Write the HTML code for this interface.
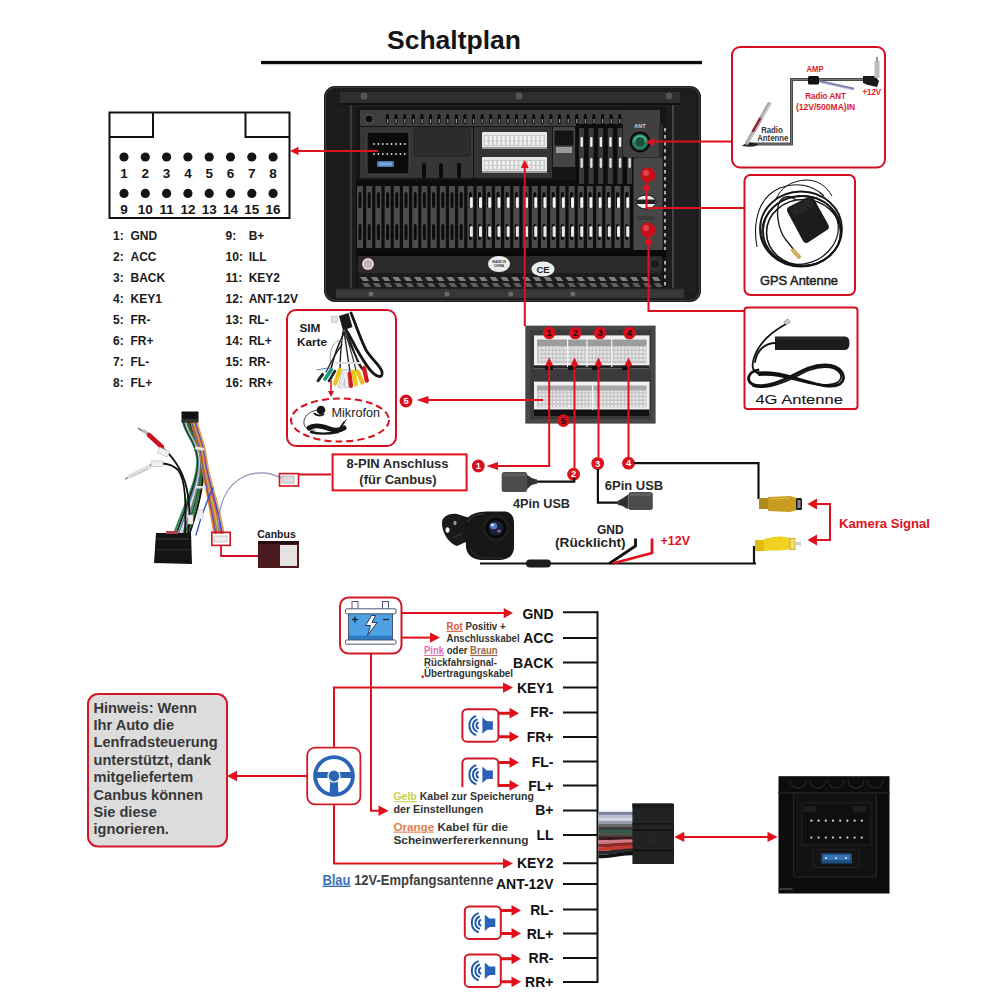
<!DOCTYPE html>
<html><head><meta charset="utf-8">
<style>
html,body{margin:0;padding:0;background:#fff;}
body{width:1000px;height:1000px;overflow:hidden;}
svg{display:block;}
text{font-family:"Liberation Sans",sans-serif;}
.b{font-weight:bold;}
</style></head>
<body>
<svg width="1000" height="1000" viewBox="0 0 1000 1000">
<rect width="1000" height="1000" fill="#fff"/>

<!-- TITLE -->
<text x="387" y="48.6" font-size="26.5" class="b" fill="#151515">Schaltplan</text>
<rect x="261" y="60.9" width="441" height="3.3" fill="#0a0a0a"/>

<!-- CONNECTOR DIAGRAM -->
<g id="conn">
<path d="M109.5,112.5 H289.5 V218 H109.5 Z M109.5,137 H153 V112.5 M289.5,137 H245.5 V112.5" fill="none" stroke="#111" stroke-width="2"/>
<g fill="#151515">
<circle cx="124" cy="157" r="4.6"/><circle cx="145.3" cy="157" r="4.6"/><circle cx="166.6" cy="157" r="4.6"/><circle cx="187.9" cy="157" r="4.6"/><circle cx="209.2" cy="157" r="4.6"/><circle cx="230.5" cy="157" r="4.6"/><circle cx="251.8" cy="157" r="4.6"/><circle cx="273.1" cy="157" r="4.6"/>
<circle cx="124" cy="193.4" r="4.6"/><circle cx="145.3" cy="193.4" r="4.6"/><circle cx="166.6" cy="193.4" r="4.6"/><circle cx="187.9" cy="193.4" r="4.6"/><circle cx="209.2" cy="193.4" r="4.6"/><circle cx="230.5" cy="193.4" r="4.6"/><circle cx="251.8" cy="193.4" r="4.6"/><circle cx="273.1" cy="193.4" r="4.6"/>
</g>
<g font-size="13.5" class="b" fill="#151515" text-anchor="middle">
<text x="124" y="177.6">1</text><text x="145.3" y="177.6">2</text><text x="166.6" y="177.6">3</text><text x="187.9" y="177.6">4</text><text x="209.2" y="177.6">5</text><text x="230.5" y="177.6">6</text><text x="251.8" y="177.6">7</text><text x="273.1" y="177.6">8</text>
<text x="124" y="213.5">9</text><text x="145.3" y="213.5">10</text><text x="166.6" y="213.5">11</text><text x="187.9" y="213.5">12</text><text x="209.2" y="213.5">13</text><text x="230.5" y="213.5">14</text><text x="251.8" y="213.5">15</text><text x="273.1" y="213.5">16</text>
</g>
</g>

<!-- PIN LIST -->
<g font-size="12" class="b" fill="#1a1a1a">
<text x="113" y="239.5">1:</text><text x="130.5" y="239.5">GND</text>
<text x="113" y="260.6">2:</text><text x="130.5" y="260.6">ACC</text>
<text x="113" y="281.7">3:</text><text x="130.5" y="281.7">BACK</text>
<text x="113" y="302.8">4:</text><text x="130.5" y="302.8">KEY1</text>
<text x="113" y="323.9">5:</text><text x="130.5" y="323.9">FR-</text>
<text x="113" y="345">6:</text><text x="130.5" y="345">FR+</text>
<text x="113" y="366.1">7:</text><text x="130.5" y="366.1">FL-</text>
<text x="113" y="387.2">8:</text><text x="130.5" y="387.2">FL+</text>
<text x="225.6" y="239.5">9:</text><text x="248.7" y="239.5">B+</text>
<text x="225.6" y="260.6">10:</text><text x="248.7" y="260.6">ILL</text>
<text x="225.6" y="281.7">11:</text><text x="248.7" y="281.7">KEY2</text>
<text x="225.6" y="302.8">12:</text><text x="248.7" y="302.8">ANT-12V</text>
<text x="225.6" y="323.9">13:</text><text x="248.7" y="323.9">RL-</text>
<text x="225.6" y="345">14:</text><text x="248.7" y="345">RL+</text>
<text x="225.6" y="366.1">15:</text><text x="248.7" y="366.1">RR-</text>
<text x="225.6" y="387.2">16:</text><text x="248.7" y="387.2">RR+</text>
</g>

<g id="hu">
<rect x="324" y="86" width="377" height="216" rx="11" fill="#1c1c1c"/>
<rect x="325.5" y="87.5" width="374" height="213" rx="10" fill="none" stroke="#3c3c3c" stroke-width="1.2"/>
<rect x="330" y="95" width="22" height="198" fill="#1c1c1c"/>
<rect x="350" y="95" width="2" height="198" fill="#3a3a3a"/>
<rect x="672" y="95" width="24" height="198" fill="#1f1f1f"/>
<rect x="672" y="95" width="2" height="198" fill="#454545"/>
<rect x="340" y="92" width="340" height="12" fill="#2e2e2e"/>
<rect x="340" y="103" width="340" height="2" fill="#111"/>
<circle cx="364" cy="96" r="3.5" fill="#555"/>
<circle cx="519" cy="96" r="3.5" fill="#555"/>
<circle cx="669" cy="96" r="3.5" fill="#555"/>
<rect x="356" y="107" width="310" height="186" fill="#151515"/>
<rect x="360" y="110" width="300" height="16" fill="#3e3e3e"/>
<rect x="386.0" y="114" width="3" height="10" rx="1.5" fill="#0a0a0a"/>
<rect x="387.0" y="119" width="1.2" height="4" fill="#9a9a9a"/>
<rect x="394.6" y="114" width="3" height="10" rx="1.5" fill="#0a0a0a"/>
<rect x="395.6" y="119" width="1.2" height="4" fill="#9a9a9a"/>
<rect x="403.2" y="114" width="3" height="10" rx="1.5" fill="#0a0a0a"/>
<rect x="404.2" y="119" width="1.2" height="4" fill="#9a9a9a"/>
<rect x="411.8" y="114" width="3" height="10" rx="1.5" fill="#0a0a0a"/>
<rect x="412.8" y="119" width="1.2" height="4" fill="#9a9a9a"/>
<rect x="420.4" y="114" width="3" height="10" rx="1.5" fill="#0a0a0a"/>
<rect x="421.4" y="119" width="1.2" height="4" fill="#9a9a9a"/>
<rect x="429.0" y="114" width="3" height="10" rx="1.5" fill="#0a0a0a"/>
<rect x="430.0" y="119" width="1.2" height="4" fill="#9a9a9a"/>
<rect x="437.6" y="114" width="3" height="10" rx="1.5" fill="#0a0a0a"/>
<rect x="438.6" y="119" width="1.2" height="4" fill="#9a9a9a"/>
<rect x="446.2" y="114" width="3" height="10" rx="1.5" fill="#0a0a0a"/>
<rect x="447.2" y="119" width="1.2" height="4" fill="#9a9a9a"/>
<rect x="454.8" y="114" width="3" height="10" rx="1.5" fill="#0a0a0a"/>
<rect x="455.8" y="119" width="1.2" height="4" fill="#9a9a9a"/>
<rect x="463.4" y="114" width="3" height="10" rx="1.5" fill="#0a0a0a"/>
<rect x="464.4" y="119" width="1.2" height="4" fill="#9a9a9a"/>
<rect x="472.0" y="114" width="3" height="10" rx="1.5" fill="#0a0a0a"/>
<rect x="473.0" y="119" width="1.2" height="4" fill="#9a9a9a"/>
<rect x="480.6" y="114" width="3" height="10" rx="1.5" fill="#0a0a0a"/>
<rect x="481.6" y="119" width="1.2" height="4" fill="#9a9a9a"/>
<rect x="489.2" y="114" width="3" height="10" rx="1.5" fill="#0a0a0a"/>
<rect x="490.2" y="119" width="1.2" height="4" fill="#9a9a9a"/>
<rect x="497.8" y="114" width="3" height="10" rx="1.5" fill="#0a0a0a"/>
<rect x="498.8" y="119" width="1.2" height="4" fill="#9a9a9a"/>
<rect x="506.4" y="114" width="3" height="10" rx="1.5" fill="#0a0a0a"/>
<rect x="507.4" y="119" width="1.2" height="4" fill="#9a9a9a"/>
<rect x="515.0" y="114" width="3" height="10" rx="1.5" fill="#0a0a0a"/>
<rect x="516.0" y="119" width="1.2" height="4" fill="#9a9a9a"/>
<rect x="523.6" y="114" width="3" height="10" rx="1.5" fill="#0a0a0a"/>
<rect x="524.6" y="119" width="1.2" height="4" fill="#9a9a9a"/>
<rect x="532.2" y="114" width="3" height="10" rx="1.5" fill="#0a0a0a"/>
<rect x="533.2" y="119" width="1.2" height="4" fill="#9a9a9a"/>
<rect x="540.8" y="114" width="3" height="10" rx="1.5" fill="#0a0a0a"/>
<rect x="541.8" y="119" width="1.2" height="4" fill="#9a9a9a"/>
<rect x="549.4" y="114" width="3" height="10" rx="1.5" fill="#0a0a0a"/>
<rect x="550.4" y="119" width="1.2" height="4" fill="#9a9a9a"/>
<rect x="558.0" y="114" width="3" height="10" rx="1.5" fill="#0a0a0a"/>
<rect x="559.0" y="119" width="1.2" height="4" fill="#9a9a9a"/>
<rect x="566.6" y="114" width="3" height="10" rx="1.5" fill="#0a0a0a"/>
<rect x="567.6" y="119" width="1.2" height="4" fill="#9a9a9a"/>
<rect x="575.2" y="114" width="3" height="10" rx="1.5" fill="#0a0a0a"/>
<rect x="576.2" y="119" width="1.2" height="4" fill="#9a9a9a"/>
<rect x="583.8" y="114" width="3" height="10" rx="1.5" fill="#0a0a0a"/>
<rect x="584.8" y="119" width="1.2" height="4" fill="#9a9a9a"/>
<rect x="592.4" y="114" width="3" height="10" rx="1.5" fill="#0a0a0a"/>
<rect x="593.4" y="119" width="1.2" height="4" fill="#9a9a9a"/>
<rect x="601.0" y="114" width="3" height="10" rx="1.5" fill="#0a0a0a"/>
<rect x="602.0" y="119" width="1.2" height="4" fill="#9a9a9a"/>
<rect x="609.6" y="114" width="3" height="10" rx="1.5" fill="#0a0a0a"/>
<rect x="610.6" y="119" width="1.2" height="4" fill="#9a9a9a"/>
<rect x="618.2" y="114" width="3" height="10" rx="1.5" fill="#0a0a0a"/>
<rect x="619.2" y="119" width="1.2" height="4" fill="#9a9a9a"/>
<rect x="626.8" y="114" width="3" height="10" rx="1.5" fill="#0a0a0a"/>
<rect x="627.8" y="119" width="1.2" height="4" fill="#9a9a9a"/>
<rect x="635.4" y="114" width="3" height="10" rx="1.5" fill="#0a0a0a"/>
<rect x="636.4" y="119" width="1.2" height="4" fill="#9a9a9a"/>
<rect x="644.0" y="114" width="3" height="10" rx="1.5" fill="#0a0a0a"/>
<rect x="645.0" y="119" width="1.2" height="4" fill="#9a9a9a"/>
<rect x="652.6" y="114" width="3" height="10" rx="1.5" fill="#0a0a0a"/>
<rect x="653.6" y="119" width="1.2" height="4" fill="#9a9a9a"/>
<circle cx="369" cy="119" r="4" fill="#0c0c0c" stroke="#555" stroke-width="1"/>
<rect x="360" y="127" width="53" height="51" fill="#363636"/>
<rect x="367" y="132" width="42" height="42" fill="#0b0b0b" stroke="#4a4a4a" stroke-width="1"/>
<circle cx="374.0" cy="144" r="0.9" fill="#ddd"/>
<circle cx="374.0" cy="154" r="0.9" fill="#ddd"/>
<circle cx="378.4" cy="144" r="0.9" fill="#ddd"/>
<circle cx="378.4" cy="154" r="0.9" fill="#ddd"/>
<circle cx="382.8" cy="144" r="0.9" fill="#ddd"/>
<circle cx="382.8" cy="154" r="0.9" fill="#ddd"/>
<circle cx="387.2" cy="144" r="0.9" fill="#ddd"/>
<circle cx="387.2" cy="154" r="0.9" fill="#ddd"/>
<circle cx="391.6" cy="144" r="0.9" fill="#ddd"/>
<circle cx="391.6" cy="154" r="0.9" fill="#ddd"/>
<circle cx="396.0" cy="144" r="0.9" fill="#ddd"/>
<circle cx="396.0" cy="154" r="0.9" fill="#ddd"/>
<circle cx="400.4" cy="144" r="0.9" fill="#ddd"/>
<circle cx="400.4" cy="154" r="0.9" fill="#ddd"/>
<circle cx="404.8" cy="144" r="0.9" fill="#ddd"/>
<circle cx="404.8" cy="154" r="0.9" fill="#ddd"/>
<rect x="377" y="161" width="17" height="6" rx="1.5" fill="#4a7ab0"/>
<rect x="379" y="162.5" width="13" height="3" fill="#7aa8d8"/>
<rect x="413" y="127" width="60" height="51" fill="#363636"/>
<rect x="414" y="128" width="56" height="28" rx="2" fill="#2c2c2c" stroke="#222"/>
<rect x="422" y="163" width="4" height="15" rx="2" fill="#0a0a0a"/>
<rect x="439" y="163" width="4" height="15" rx="2" fill="#0a0a0a"/>
<rect x="457" y="163" width="4" height="15" rx="2" fill="#0a0a0a"/>
<rect x="474" y="127" width="78" height="51" fill="#333"/>
<rect x="482" y="132" width="65" height="17" rx="1" fill="#e8e8e8"/>
<rect x="484" y="135" width="61" height="11" fill="#c9c9c9"/>
<rect x="485.0" y="136" width="2.6" height="4.5" fill="#f2f2f2"/>
<rect x="485.0" y="141.3" width="2.6" height="3.7" fill="#f2f2f2"/>
<rect x="489.3" y="136" width="2.6" height="4.5" fill="#f2f2f2"/>
<rect x="489.3" y="141.3" width="2.6" height="3.7" fill="#f2f2f2"/>
<rect x="493.6" y="136" width="2.6" height="4.5" fill="#f2f2f2"/>
<rect x="493.6" y="141.3" width="2.6" height="3.7" fill="#f2f2f2"/>
<rect x="497.9" y="136" width="2.6" height="4.5" fill="#f2f2f2"/>
<rect x="497.9" y="141.3" width="2.6" height="3.7" fill="#f2f2f2"/>
<rect x="502.2" y="136" width="2.6" height="4.5" fill="#f2f2f2"/>
<rect x="502.2" y="141.3" width="2.6" height="3.7" fill="#f2f2f2"/>
<rect x="506.5" y="136" width="2.6" height="4.5" fill="#f2f2f2"/>
<rect x="506.5" y="141.3" width="2.6" height="3.7" fill="#f2f2f2"/>
<rect x="510.8" y="136" width="2.6" height="4.5" fill="#f2f2f2"/>
<rect x="510.8" y="141.3" width="2.6" height="3.7" fill="#f2f2f2"/>
<rect x="515.1" y="136" width="2.6" height="4.5" fill="#f2f2f2"/>
<rect x="515.1" y="141.3" width="2.6" height="3.7" fill="#f2f2f2"/>
<rect x="519.4" y="136" width="2.6" height="4.5" fill="#f2f2f2"/>
<rect x="519.4" y="141.3" width="2.6" height="3.7" fill="#f2f2f2"/>
<rect x="523.7" y="136" width="2.6" height="4.5" fill="#f2f2f2"/>
<rect x="523.7" y="141.3" width="2.6" height="3.7" fill="#f2f2f2"/>
<rect x="528.0" y="136" width="2.6" height="4.5" fill="#f2f2f2"/>
<rect x="528.0" y="141.3" width="2.6" height="3.7" fill="#f2f2f2"/>
<rect x="532.3" y="136" width="2.6" height="4.5" fill="#f2f2f2"/>
<rect x="532.3" y="141.3" width="2.6" height="3.7" fill="#f2f2f2"/>
<rect x="536.6" y="136" width="2.6" height="4.5" fill="#f2f2f2"/>
<rect x="536.6" y="141.3" width="2.6" height="3.7" fill="#f2f2f2"/>
<rect x="540.9" y="136" width="2.6" height="4.5" fill="#f2f2f2"/>
<rect x="540.9" y="141.3" width="2.6" height="3.7" fill="#f2f2f2"/>
<rect x="482" y="147" width="65" height="2" fill="#9a9a9a"/>
<rect x="482" y="157" width="65" height="16" rx="1" fill="#e8e8e8"/>
<rect x="484" y="160" width="61" height="10" fill="#c9c9c9"/>
<rect x="485.0" y="161" width="2.6" height="4.0" fill="#f2f2f2"/>
<rect x="485.0" y="165.8" width="2.6" height="3.2" fill="#f2f2f2"/>
<rect x="489.3" y="161" width="2.6" height="4.0" fill="#f2f2f2"/>
<rect x="489.3" y="165.8" width="2.6" height="3.2" fill="#f2f2f2"/>
<rect x="493.6" y="161" width="2.6" height="4.0" fill="#f2f2f2"/>
<rect x="493.6" y="165.8" width="2.6" height="3.2" fill="#f2f2f2"/>
<rect x="497.9" y="161" width="2.6" height="4.0" fill="#f2f2f2"/>
<rect x="497.9" y="165.8" width="2.6" height="3.2" fill="#f2f2f2"/>
<rect x="502.2" y="161" width="2.6" height="4.0" fill="#f2f2f2"/>
<rect x="502.2" y="165.8" width="2.6" height="3.2" fill="#f2f2f2"/>
<rect x="506.5" y="161" width="2.6" height="4.0" fill="#f2f2f2"/>
<rect x="506.5" y="165.8" width="2.6" height="3.2" fill="#f2f2f2"/>
<rect x="510.8" y="161" width="2.6" height="4.0" fill="#f2f2f2"/>
<rect x="510.8" y="165.8" width="2.6" height="3.2" fill="#f2f2f2"/>
<rect x="515.1" y="161" width="2.6" height="4.0" fill="#f2f2f2"/>
<rect x="515.1" y="165.8" width="2.6" height="3.2" fill="#f2f2f2"/>
<rect x="519.4" y="161" width="2.6" height="4.0" fill="#f2f2f2"/>
<rect x="519.4" y="165.8" width="2.6" height="3.2" fill="#f2f2f2"/>
<rect x="523.7" y="161" width="2.6" height="4.0" fill="#f2f2f2"/>
<rect x="523.7" y="165.8" width="2.6" height="3.2" fill="#f2f2f2"/>
<rect x="528.0" y="161" width="2.6" height="4.0" fill="#f2f2f2"/>
<rect x="528.0" y="165.8" width="2.6" height="3.2" fill="#f2f2f2"/>
<rect x="532.3" y="161" width="2.6" height="4.0" fill="#f2f2f2"/>
<rect x="532.3" y="165.8" width="2.6" height="3.2" fill="#f2f2f2"/>
<rect x="536.6" y="161" width="2.6" height="4.0" fill="#f2f2f2"/>
<rect x="536.6" y="165.8" width="2.6" height="3.2" fill="#f2f2f2"/>
<rect x="540.9" y="161" width="2.6" height="4.0" fill="#f2f2f2"/>
<rect x="540.9" y="165.8" width="2.6" height="3.2" fill="#f2f2f2"/>
<rect x="482" y="171" width="65" height="2" fill="#9a9a9a"/>
<rect x="553" y="127" width="22" height="40" fill="#444"/>
<rect x="554" y="130" width="20" height="16" fill="#141414" stroke="#555" stroke-width="0.8"/>
<rect x="556" y="147" width="16" height="6" fill="#9a9a9a"/>
<rect x="356" y="180" width="277" height="70" fill="#0d0d0d"/>
<rect x="576" y="124" width="57" height="126" fill="#0d0d0d"/>
<rect x="357.0" y="186" width="6" height="62" fill="#4c4c4c"/>
<rect x="358.5" y="192" width="3" height="16" rx="1.5" fill="#0c0c0c"/>
<rect x="358.5" y="224" width="3" height="16" rx="1.5" fill="#0c0c0c"/>
<rect x="366.2" y="186" width="6" height="62" fill="#4c4c4c"/>
<rect x="367.7" y="192" width="3" height="16" rx="1.5" fill="#0c0c0c"/>
<rect x="367.7" y="224" width="3" height="16" rx="1.5" fill="#0c0c0c"/>
<rect x="375.4" y="186" width="6" height="62" fill="#4c4c4c"/>
<rect x="376.9" y="192" width="3" height="16" rx="1.5" fill="#0c0c0c"/>
<rect x="376.9" y="224" width="3" height="16" rx="1.5" fill="#0c0c0c"/>
<rect x="384.6" y="186" width="6" height="62" fill="#4c4c4c"/>
<rect x="386.1" y="192" width="3" height="16" rx="1.5" fill="#0c0c0c"/>
<rect x="386.1" y="224" width="3" height="16" rx="1.5" fill="#0c0c0c"/>
<rect x="393.8" y="186" width="6" height="62" fill="#4c4c4c"/>
<rect x="395.3" y="192" width="3" height="16" rx="1.5" fill="#0c0c0c"/>
<rect x="395.3" y="224" width="3" height="16" rx="1.5" fill="#0c0c0c"/>
<rect x="403.0" y="186" width="6" height="62" fill="#4c4c4c"/>
<rect x="404.5" y="192" width="3" height="16" rx="1.5" fill="#0c0c0c"/>
<rect x="404.5" y="224" width="3" height="16" rx="1.5" fill="#0c0c0c"/>
<rect x="412.2" y="186" width="6" height="62" fill="#4c4c4c"/>
<rect x="413.7" y="192" width="3" height="16" rx="1.5" fill="#0c0c0c"/>
<rect x="413.7" y="224" width="3" height="16" rx="1.5" fill="#0c0c0c"/>
<rect x="421.4" y="186" width="6" height="62" fill="#4c4c4c"/>
<rect x="422.9" y="192" width="3" height="16" rx="1.5" fill="#0c0c0c"/>
<rect x="422.9" y="224" width="3" height="16" rx="1.5" fill="#0c0c0c"/>
<rect x="430.6" y="186" width="6" height="62" fill="#4c4c4c"/>
<rect x="432.1" y="192" width="3" height="16" rx="1.5" fill="#0c0c0c"/>
<rect x="432.1" y="224" width="3" height="16" rx="1.5" fill="#0c0c0c"/>
<rect x="439.8" y="186" width="6" height="62" fill="#4c4c4c"/>
<rect x="441.3" y="192" width="3" height="16" rx="1.5" fill="#0c0c0c"/>
<rect x="441.3" y="224" width="3" height="16" rx="1.5" fill="#0c0c0c"/>
<rect x="449.0" y="186" width="6" height="62" fill="#4c4c4c"/>
<rect x="450.5" y="192" width="3" height="16" rx="1.5" fill="#0c0c0c"/>
<rect x="450.5" y="224" width="3" height="16" rx="1.5" fill="#0c0c0c"/>
<rect x="458.2" y="186" width="6" height="62" fill="#4c4c4c"/>
<rect x="459.7" y="192" width="3" height="16" rx="1.5" fill="#0c0c0c"/>
<rect x="459.7" y="224" width="3" height="16" rx="1.5" fill="#0c0c0c"/>
<rect x="467.4" y="186" width="6" height="62" fill="#4c4c4c"/>
<rect x="468.9" y="192" width="3" height="16" rx="1.5" fill="#0c0c0c"/>
<rect x="468.9" y="224" width="3" height="16" rx="1.5" fill="#0c0c0c"/>
<rect x="476.6" y="186" width="6" height="62" fill="#4c4c4c"/>
<rect x="478.1" y="192" width="3" height="16" rx="1.5" fill="#0c0c0c"/>
<rect x="478.1" y="224" width="3" height="16" rx="1.5" fill="#0c0c0c"/>
<rect x="485.8" y="186" width="6" height="62" fill="#4c4c4c"/>
<rect x="487.3" y="192" width="3" height="16" rx="1.5" fill="#0c0c0c"/>
<rect x="487.3" y="224" width="3" height="16" rx="1.5" fill="#0c0c0c"/>
<rect x="495.0" y="186" width="6" height="62" fill="#4c4c4c"/>
<rect x="496.5" y="192" width="3" height="16" rx="1.5" fill="#0c0c0c"/>
<rect x="496.5" y="224" width="3" height="16" rx="1.5" fill="#0c0c0c"/>
<rect x="504.2" y="186" width="6" height="62" fill="#4c4c4c"/>
<rect x="505.7" y="192" width="3" height="16" rx="1.5" fill="#0c0c0c"/>
<rect x="505.7" y="224" width="3" height="16" rx="1.5" fill="#0c0c0c"/>
<rect x="513.4" y="186" width="6" height="62" fill="#4c4c4c"/>
<rect x="514.9" y="192" width="3" height="16" rx="1.5" fill="#0c0c0c"/>
<rect x="514.9" y="224" width="3" height="16" rx="1.5" fill="#0c0c0c"/>
<rect x="522.6" y="186" width="6" height="62" fill="#4c4c4c"/>
<rect x="524.1" y="192" width="3" height="16" rx="1.5" fill="#0c0c0c"/>
<rect x="524.1" y="224" width="3" height="16" rx="1.5" fill="#0c0c0c"/>
<rect x="531.8" y="186" width="6" height="62" fill="#4c4c4c"/>
<rect x="533.3" y="192" width="3" height="16" rx="1.5" fill="#0c0c0c"/>
<rect x="533.3" y="224" width="3" height="16" rx="1.5" fill="#0c0c0c"/>
<rect x="541.0" y="186" width="6" height="62" fill="#4c4c4c"/>
<rect x="542.5" y="192" width="3" height="16" rx="1.5" fill="#0c0c0c"/>
<rect x="542.5" y="224" width="3" height="16" rx="1.5" fill="#0c0c0c"/>
<rect x="550.2" y="186" width="6" height="62" fill="#4c4c4c"/>
<rect x="551.7" y="192" width="3" height="16" rx="1.5" fill="#0c0c0c"/>
<rect x="551.7" y="224" width="3" height="16" rx="1.5" fill="#0c0c0c"/>
<rect x="559.4" y="186" width="6" height="62" fill="#4c4c4c"/>
<rect x="560.9" y="192" width="3" height="16" rx="1.5" fill="#0c0c0c"/>
<rect x="560.9" y="224" width="3" height="16" rx="1.5" fill="#0c0c0c"/>
<rect x="568.6" y="186" width="6" height="62" fill="#4c4c4c"/>
<rect x="570.1" y="192" width="3" height="16" rx="1.5" fill="#0c0c0c"/>
<rect x="570.1" y="224" width="3" height="16" rx="1.5" fill="#0c0c0c"/>
<rect x="577.8" y="186" width="6" height="62" fill="#4c4c4c"/>
<rect x="579.3" y="192" width="3" height="16" rx="1.5" fill="#0c0c0c"/>
<rect x="579.3" y="224" width="3" height="16" rx="1.5" fill="#0c0c0c"/>
<rect x="587.0" y="186" width="6" height="62" fill="#4c4c4c"/>
<rect x="588.5" y="192" width="3" height="16" rx="1.5" fill="#0c0c0c"/>
<rect x="588.5" y="224" width="3" height="16" rx="1.5" fill="#0c0c0c"/>
<rect x="596.2" y="186" width="6" height="62" fill="#4c4c4c"/>
<rect x="597.7" y="192" width="3" height="16" rx="1.5" fill="#0c0c0c"/>
<rect x="597.7" y="224" width="3" height="16" rx="1.5" fill="#0c0c0c"/>
<rect x="605.4" y="186" width="6" height="62" fill="#4c4c4c"/>
<rect x="606.9" y="192" width="3" height="16" rx="1.5" fill="#0c0c0c"/>
<rect x="606.9" y="224" width="3" height="16" rx="1.5" fill="#0c0c0c"/>
<rect x="614.6" y="186" width="6" height="62" fill="#4c4c4c"/>
<rect x="616.1" y="192" width="3" height="16" rx="1.5" fill="#0c0c0c"/>
<rect x="616.1" y="224" width="3" height="16" rx="1.5" fill="#0c0c0c"/>
<rect x="623.8" y="186" width="6" height="62" fill="#4c4c4c"/>
<rect x="625.3" y="192" width="3" height="16" rx="1.5" fill="#0c0c0c"/>
<rect x="625.3" y="224" width="3" height="16" rx="1.5" fill="#0c0c0c"/>
<rect x="579.0" y="128" width="5" height="56" fill="#3a3a3a"/>
<rect x="580.5" y="137" width="2.4" height="10" rx="1.2" fill="#eee"/>
<rect x="580.5" y="158" width="2.4" height="10" rx="1.2" fill="#ddd"/>
<rect x="588.6" y="128" width="5" height="56" fill="#3a3a3a"/>
<rect x="590.1" y="137" width="2.4" height="10" rx="1.2" fill="#eee"/>
<rect x="590.1" y="158" width="2.4" height="10" rx="1.2" fill="#ddd"/>
<rect x="598.2" y="128" width="5" height="56" fill="#3a3a3a"/>
<rect x="599.7" y="137" width="2.4" height="10" rx="1.2" fill="#eee"/>
<rect x="599.7" y="158" width="2.4" height="10" rx="1.2" fill="#ddd"/>
<rect x="607.8" y="128" width="5" height="56" fill="#3a3a3a"/>
<rect x="609.3" y="137" width="2.4" height="10" rx="1.2" fill="#eee"/>
<rect x="609.3" y="158" width="2.4" height="10" rx="1.2" fill="#ddd"/>
<rect x="617.4" y="128" width="5" height="56" fill="#3a3a3a"/>
<rect x="618.9" y="137" width="2.4" height="10" rx="1.2" fill="#eee"/>
<rect x="618.9" y="158" width="2.4" height="10" rx="1.2" fill="#ddd"/>
<rect x="627.0" y="128" width="5" height="56" fill="#3a3a3a"/>
<rect x="628.5" y="137" width="2.4" height="10" rx="1.2" fill="#eee"/>
<rect x="628.5" y="158" width="2.4" height="10" rx="1.2" fill="#ddd"/>
<rect x="469.8" y="197" width="3" height="11" rx="1.5" fill="#f0f0f0"/>
<rect x="469.8" y="226" width="3" height="11" rx="1.5" fill="#e8e8e8"/>
<rect x="479.0" y="197" width="3" height="11" rx="1.5" fill="#f0f0f0"/>
<rect x="479.0" y="226" width="3" height="11" rx="1.5" fill="#e8e8e8"/>
<rect x="488.2" y="197" width="3" height="11" rx="1.5" fill="#f0f0f0"/>
<rect x="488.2" y="226" width="3" height="11" rx="1.5" fill="#e8e8e8"/>
<rect x="497.4" y="197" width="3" height="11" rx="1.5" fill="#f0f0f0"/>
<rect x="497.4" y="226" width="3" height="11" rx="1.5" fill="#e8e8e8"/>
<rect x="506.6" y="197" width="3" height="11" rx="1.5" fill="#f0f0f0"/>
<rect x="506.6" y="226" width="3" height="11" rx="1.5" fill="#e8e8e8"/>
<rect x="515.8" y="197" width="3" height="11" rx="1.5" fill="#f0f0f0"/>
<rect x="515.8" y="226" width="3" height="11" rx="1.5" fill="#e8e8e8"/>
<rect x="525.0" y="197" width="3" height="11" rx="1.5" fill="#f0f0f0"/>
<rect x="525.0" y="226" width="3" height="11" rx="1.5" fill="#e8e8e8"/>
<rect x="534.2" y="197" width="3" height="11" rx="1.5" fill="#f0f0f0"/>
<rect x="534.2" y="226" width="3" height="11" rx="1.5" fill="#e8e8e8"/>
<rect x="543.4" y="197" width="3" height="11" rx="1.5" fill="#f0f0f0"/>
<rect x="543.4" y="226" width="3" height="11" rx="1.5" fill="#e8e8e8"/>
<rect x="552.6" y="197" width="3" height="11" rx="1.5" fill="#f0f0f0"/>
<rect x="552.6" y="226" width="3" height="11" rx="1.5" fill="#e8e8e8"/>
<rect x="561.8" y="197" width="3" height="11" rx="1.5" fill="#f0f0f0"/>
<rect x="561.8" y="226" width="3" height="11" rx="1.5" fill="#e8e8e8"/>
<rect x="571.0" y="197" width="3" height="11" rx="1.5" fill="#f0f0f0"/>
<rect x="571.0" y="226" width="3" height="11" rx="1.5" fill="#e8e8e8"/>
<rect x="580.2" y="197" width="3" height="11" rx="1.5" fill="#f0f0f0"/>
<rect x="580.2" y="226" width="3" height="11" rx="1.5" fill="#e8e8e8"/>
<rect x="589.4" y="197" width="3" height="11" rx="1.5" fill="#f0f0f0"/>
<rect x="589.4" y="226" width="3" height="11" rx="1.5" fill="#e8e8e8"/>
<rect x="598.6" y="197" width="3" height="11" rx="1.5" fill="#f0f0f0"/>
<rect x="598.6" y="226" width="3" height="11" rx="1.5" fill="#e8e8e8"/>
<rect x="607.8" y="197" width="3" height="11" rx="1.5" fill="#f0f0f0"/>
<rect x="607.8" y="226" width="3" height="11" rx="1.5" fill="#e8e8e8"/>
<rect x="617.0" y="197" width="3" height="11" rx="1.5" fill="#f0f0f0"/>
<rect x="617.0" y="226" width="3" height="11" rx="1.5" fill="#e8e8e8"/>
<rect x="626.2" y="197" width="3" height="11" rx="1.5" fill="#f0f0f0"/>
<rect x="626.2" y="226" width="3" height="11" rx="1.5" fill="#e8e8e8"/>
<rect x="633" y="124" width="30" height="126" fill="#2a2a2a"/>
<rect x="623" y="111" width="36" height="46" rx="2" fill="#404040"/>
<text x="640" y="128" font-size="5.5" fill="#cfcfcf" class="b" text-anchor="middle">ANT</text>
<circle cx="640" cy="142" r="10.5" fill="#0d0d0d"/>
<circle cx="640" cy="142" r="8" fill="#2a7a60"/>
<circle cx="640" cy="142" r="4.5" fill="#1a5040"/>
<path d="M634,142 a6,6 0 0 1 12,0" fill="none" stroke="#4fb890" stroke-width="1.5"/>
<rect x="634" y="158" width="28.5" height="93" rx="2" fill="#474747"/>
<circle cx="648" cy="175" r="7.5" fill="#c8101a"/>
<circle cx="646" cy="173" r="3" fill="#e8404a"/>
<ellipse cx="646" cy="202" rx="10" ry="7" fill="#eee" stroke="#111" stroke-width="1"/>
<rect x="637" y="199.5" width="18" height="4.5" fill="#222"/>
<text x="637" y="220" font-size="5" fill="#222">GPS4G</text>
<circle cx="648" cy="230" r="7.5" fill="#c8101a"/>
<circle cx="646" cy="228" r="3" fill="#e8404a"/>
<rect x="664" y="128" width="2" height="3.5" fill="#aaa"/>
<rect x="664" y="135" width="2" height="3.5" fill="#aaa"/>
<rect x="664" y="142" width="2" height="3.5" fill="#aaa"/>
<rect x="664" y="149" width="2" height="3.5" fill="#aaa"/>
<rect x="664" y="156" width="2" height="3.5" fill="#aaa"/>
<rect x="664" y="163" width="2" height="3.5" fill="#aaa"/>
<rect x="664" y="170" width="2" height="3.5" fill="#aaa"/>
<rect x="664" y="177" width="2" height="3.5" fill="#aaa"/>
<rect x="664" y="184" width="2" height="3.5" fill="#aaa"/>
<rect x="664" y="191" width="2" height="3.5" fill="#aaa"/>
<rect x="664" y="198" width="2" height="3.5" fill="#aaa"/>
<rect x="664" y="205" width="2" height="3.5" fill="#aaa"/>
<rect x="664" y="212" width="2" height="3.5" fill="#aaa"/>
<rect x="664" y="219" width="2" height="3.5" fill="#aaa"/>
<rect x="664" y="226" width="2" height="3.5" fill="#aaa"/>
<rect x="664" y="233" width="2" height="3.5" fill="#aaa"/>
<rect x="664" y="240" width="2" height="3.5" fill="#aaa"/>
<rect x="664" y="247" width="2" height="3.5" fill="#aaa"/>
<rect x="664" y="254" width="2" height="3.5" fill="#aaa"/>
<rect x="664" y="261" width="2" height="3.5" fill="#aaa"/>
<rect x="664" y="268" width="2" height="3.5" fill="#aaa"/>
<rect x="664" y="275" width="2" height="3.5" fill="#aaa"/>
<rect x="664" y="282" width="2" height="3.5" fill="#aaa"/>
<rect x="664" y="289" width="2" height="3.5" fill="#aaa"/>
<rect x="356" y="250" width="310" height="8" fill="#0a0a0a"/>
<rect x="358" y="256" width="304" height="17" fill="#2a2a2a"/>
<circle cx="368" cy="264" r="6" fill="#d8d0d4"/>
<circle cx="368" cy="264" r="4" fill="#c8b0b8"/>
<ellipse cx="499" cy="264" rx="11" ry="8" fill="#ececec"/>
<text x="499" y="263" font-size="3.2" fill="#333" text-anchor="middle" class="b">MADE IN</text>
<text x="499" y="267" font-size="3.2" fill="#333" text-anchor="middle" class="b">CHINA</text>
<circle cx="655" cy="264" r="5" fill="#1a1a1a" stroke="#444"/>
<rect x="358" y="273" width="304" height="16" fill="#1c1c1c"/>
<path d="M360.0,277 l6,0 l3,4 l-6,0 z" fill="#7e7e7e"/>
<path d="M362.0,283 l6,0 l3,4 l-6,0 z" fill="#5e5e5e"/>
<path d="M370.8,277 l6,0 l3,4 l-6,0 z" fill="#7e7e7e"/>
<path d="M372.8,283 l6,0 l3,4 l-6,0 z" fill="#5e5e5e"/>
<path d="M381.6,277 l6,0 l3,4 l-6,0 z" fill="#7e7e7e"/>
<path d="M383.6,283 l6,0 l3,4 l-6,0 z" fill="#5e5e5e"/>
<path d="M392.4,277 l6,0 l3,4 l-6,0 z" fill="#7e7e7e"/>
<path d="M394.4,283 l6,0 l3,4 l-6,0 z" fill="#5e5e5e"/>
<path d="M403.2,277 l6,0 l3,4 l-6,0 z" fill="#7e7e7e"/>
<path d="M405.2,283 l6,0 l3,4 l-6,0 z" fill="#5e5e5e"/>
<path d="M414.0,277 l6,0 l3,4 l-6,0 z" fill="#7e7e7e"/>
<path d="M416.0,283 l6,0 l3,4 l-6,0 z" fill="#5e5e5e"/>
<path d="M424.8,277 l6,0 l3,4 l-6,0 z" fill="#7e7e7e"/>
<path d="M426.8,283 l6,0 l3,4 l-6,0 z" fill="#5e5e5e"/>
<path d="M435.6,277 l6,0 l3,4 l-6,0 z" fill="#7e7e7e"/>
<path d="M437.6,283 l6,0 l3,4 l-6,0 z" fill="#5e5e5e"/>
<path d="M446.4,277 l6,0 l3,4 l-6,0 z" fill="#7e7e7e"/>
<path d="M448.4,283 l6,0 l3,4 l-6,0 z" fill="#5e5e5e"/>
<path d="M457.2,277 l6,0 l3,4 l-6,0 z" fill="#7e7e7e"/>
<path d="M459.2,283 l6,0 l3,4 l-6,0 z" fill="#5e5e5e"/>
<path d="M468.0,277 l6,0 l3,4 l-6,0 z" fill="#7e7e7e"/>
<path d="M470.0,283 l6,0 l3,4 l-6,0 z" fill="#5e5e5e"/>
<path d="M478.8,277 l6,0 l3,4 l-6,0 z" fill="#7e7e7e"/>
<path d="M480.8,283 l6,0 l3,4 l-6,0 z" fill="#5e5e5e"/>
<path d="M489.6,277 l6,0 l3,4 l-6,0 z" fill="#7e7e7e"/>
<path d="M491.6,283 l6,0 l3,4 l-6,0 z" fill="#5e5e5e"/>
<path d="M500.4,277 l6,0 l3,4 l-6,0 z" fill="#7e7e7e"/>
<path d="M502.4,283 l6,0 l3,4 l-6,0 z" fill="#5e5e5e"/>
<path d="M511.2,277 l6,0 l3,4 l-6,0 z" fill="#7e7e7e"/>
<path d="M513.2,283 l6,0 l3,4 l-6,0 z" fill="#5e5e5e"/>
<path d="M522.0,277 l6,0 l3,4 l-6,0 z" fill="#7e7e7e"/>
<path d="M524.0,283 l6,0 l3,4 l-6,0 z" fill="#5e5e5e"/>
<path d="M532.8,277 l6,0 l3,4 l-6,0 z" fill="#7e7e7e"/>
<path d="M534.8,283 l6,0 l3,4 l-6,0 z" fill="#5e5e5e"/>
<path d="M543.6,277 l6,0 l3,4 l-6,0 z" fill="#7e7e7e"/>
<path d="M545.6,283 l6,0 l3,4 l-6,0 z" fill="#5e5e5e"/>
<path d="M554.4,277 l6,0 l3,4 l-6,0 z" fill="#7e7e7e"/>
<path d="M556.4,283 l6,0 l3,4 l-6,0 z" fill="#5e5e5e"/>
<path d="M565.2,277 l6,0 l3,4 l-6,0 z" fill="#7e7e7e"/>
<path d="M567.2,283 l6,0 l3,4 l-6,0 z" fill="#5e5e5e"/>
<path d="M576.0,277 l6,0 l3,4 l-6,0 z" fill="#7e7e7e"/>
<path d="M578.0,283 l6,0 l3,4 l-6,0 z" fill="#5e5e5e"/>
<path d="M586.8,277 l6,0 l3,4 l-6,0 z" fill="#7e7e7e"/>
<path d="M588.8,283 l6,0 l3,4 l-6,0 z" fill="#5e5e5e"/>
<path d="M597.6,277 l6,0 l3,4 l-6,0 z" fill="#7e7e7e"/>
<path d="M599.6,283 l6,0 l3,4 l-6,0 z" fill="#5e5e5e"/>
<path d="M608.4,277 l6,0 l3,4 l-6,0 z" fill="#7e7e7e"/>
<path d="M610.4,283 l6,0 l3,4 l-6,0 z" fill="#5e5e5e"/>
<path d="M619.2,277 l6,0 l3,4 l-6,0 z" fill="#7e7e7e"/>
<path d="M621.2,283 l6,0 l3,4 l-6,0 z" fill="#5e5e5e"/>
<path d="M630.0,277 l6,0 l3,4 l-6,0 z" fill="#7e7e7e"/>
<path d="M632.0,283 l6,0 l3,4 l-6,0 z" fill="#5e5e5e"/>
<path d="M640.8,277 l6,0 l3,4 l-6,0 z" fill="#7e7e7e"/>
<path d="M642.8,283 l6,0 l3,4 l-6,0 z" fill="#5e5e5e"/>
<path d="M651.6,277 l6,0 l3,4 l-6,0 z" fill="#7e7e7e"/>
<path d="M653.6,283 l6,0 l3,4 l-6,0 z" fill="#5e5e5e"/>
<rect x="336" y="288" width="348" height="10" fill="#383838"/>
<rect x="336" y="288" width="348" height="1.2" fill="#222"/>
<circle cx="371" cy="294" r="2.5" fill="#6a6a6a"/>
<circle cx="447" cy="294" r="2.5" fill="#6a6a6a"/>
<circle cx="510.7" cy="294" r="2.5" fill="#6a6a6a"/>
<circle cx="572.8" cy="294" r="2.5" fill="#6a6a6a"/>
<ellipse cx="543" cy="269" rx="11.5" ry="7.5" fill="#ececec"/>
<text x="543" y="272.6" font-size="9.5" fill="#222" text-anchor="middle" class="b">CE</text>
</g>
<!-- ANTENNA BOX -->
<rect x="732" y="47" width="153" height="120.5" rx="8" fill="#fff" stroke="#d4101e" stroke-width="2"/>
<g>
<path d="M748,144 H791.5 V79.5 H866" fill="none" stroke="#4a4a4a" stroke-width="3"/>
<path d="M748,144 H791.5 V79.5 H866" fill="none" stroke="#8a8a8a" stroke-width="0.7"/>
<path d="M818,81 L854,89" stroke="#7a80a8" stroke-width="2.4"/>
<path d="M818,82 L854,90" stroke="#c8c8e0" stroke-width="0.8"/>
<rect x="808" y="76" width="11" height="8.5" rx="1.5" fill="#111"/>
<path d="M863,76 L875,76 L879,81 L877,87 L868,85 L863,83 Z" fill="#1a1a1a"/>
<rect x="874.5" y="61" width="5" height="17" fill="#bdbdbd"/>
<rect x="876" y="57" width="2" height="5" fill="#999"/>
<path d="M742,146 q6,-6 16,-2 q-2,4 -16,2 z" fill="#222"/>
<path d="M747,143 L769,104" stroke="#a8a8a8" stroke-width="3.8" stroke-linecap="round"/>
<path d="M753,132 L761,118" stroke="#8a2030" stroke-width="3.4"/>
<path d="M748,143 L770,104" stroke="#e6e6e6" stroke-width="0.8"/>
</g>
<g class="b" fill="#e01a2a" text-anchor="middle">
<text x="815" y="71.6" font-size="8.6" textLength="17" lengthAdjust="spacingAndGlyphs">AMP</text>
<text x="871.8" y="94.6" font-size="8.8" textLength="18.7" lengthAdjust="spacingAndGlyphs">+12V</text>
<text x="825.6" y="99" font-size="9" textLength="40.8" lengthAdjust="spacingAndGlyphs">Radio ANT</text>
<text x="825.6" y="109.6" font-size="9" textLength="59.3" lengthAdjust="spacingAndGlyphs">(12V/500MA)IN</text>
</g>
<g class="b" fill="#333" text-anchor="middle">
<text x="772" y="132.8" font-size="9" textLength="21.6" lengthAdjust="spacingAndGlyphs">Radio</text>
<text x="772.8" y="141.2" font-size="9" textLength="31.2" lengthAdjust="spacingAndGlyphs">Antenne</text>
</g>

<!-- GPS BOX -->
<rect x="744.5" y="175" width="110.5" height="120" rx="6" fill="#fff" stroke="#d4101e" stroke-width="2"/>
<g fill="none" stroke="#151515">
<ellipse cx="801" cy="229" rx="41" ry="37.5" stroke-width="1.8"/>
<ellipse cx="802" cy="231" rx="39" ry="35" stroke-width="1.8"/>
<ellipse cx="803.5" cy="232.5" rx="37" ry="33" stroke-width="1.6"/>
<ellipse cx="800" cy="230" rx="38.5" ry="34" stroke-width="1.2" transform="rotate(-15 800 230)"/>
<path d="M757,247 C752,220 760,196 780,188 C795,182 812,184 824,196" stroke-width="1.1"/>
<path d="M776,199 C781,188 790,181 806,180 C818,180 826,186 832,196" stroke-width="1"/>
<path d="M796,200 C790,195 785,195 780,201 C775,210 778,230 786,240 C791,246 794,250 796,253" stroke-width="1.3"/>
</g>
<path d="M788.5,207 Q786,209 787.5,212 L803,241 Q805,244 808,242.5 L827,230 Q830,228 828.5,225 L813.5,198 Q812,195 809,196.5 Z" fill="#1c1c1c"/>
<path d="M790,209 L810,198 L814,206 L794,217 Z" fill="#262626"/>
<path d="M792,249 L800,258" stroke="#c8a048" stroke-width="4"/>
<path d="M793,250 L799,257" stroke="#e8d090" stroke-width="1"/>
<text x="799" y="284.6" font-size="12.6" fill="#1e1e1e" stroke="#1e1e1e" stroke-width="0.5" text-anchor="middle" textLength="78" lengthAdjust="spacingAndGlyphs">GPS Antenne</text>

<!-- 4G BOX -->
<rect x="744.5" y="307.5" width="113" height="101.5" rx="3" fill="#fff" stroke="#d4101e" stroke-width="2"/>
<path d="M775,336.5 H845 Q849.5,336.5 849.5,343 Q849.5,350 845,350 H775 Z" fill="#1c1c1c"/>
<rect x="776" y="337.5" width="68" height="2" fill="#2e2e2e"/>
<g fill="none" stroke="#111" stroke-linecap="round">
<path d="M786,324 C775,330 761,340 755,355 C751,365 752,371 758,373" stroke-width="1.8"/>
<path d="M775.5,343 C765,343 757,350 755,362" stroke-width="1.8"/>
<path d="M758,373 C770,372 785,375 795,378 C810,382 830,390 840,384 C848,378 842,365 825,365 C810,365 800,372 790,377 C775,384 760,388 752,384 C746,380 748,372 758,370" stroke-width="2.8"/>
<path d="M759,375 C771,374 786,377 796,380 C811,384 829,388 838,382 C845,377 840,367 825,367 C811,367 801,374 791,379 C776,386 761,389 753,386" stroke-width="1.8"/>
</g>
<rect x="784.5" y="320" width="5" height="4" fill="#ccc" stroke="#666" stroke-width="0.5" transform="rotate(-35 787 322)"/>
<text x="799.2" y="403.5" font-size="12.8" fill="#151515" stroke="#151515" stroke-width="0.1" text-anchor="middle" textLength="87.6" lengthAdjust="spacingAndGlyphs">4G Antenne</text>

<!-- red lines from head unit to antenna boxes -->
<g stroke="#e0101c" stroke-width="2" fill="none">
<path d="M731,141.5 H651"/>
<path d="M744,208 H646.5 V188"/>
<path d="M744,311 H648.5 V242"/>
</g>
<g fill="#e0101c">
<path d="M646,142 l8,-4.5 v9 z"/>
<path d="M646.5,182 l-4.5,8 h9 z"/>
<path d="M648.5,236 l-4.5,8 h9 z"/>
</g>

<g id="cbox">
<rect x="525.3" y="325.6" width="130.3" height="98" fill="#474747"/>
<rect x="530" y="330" width="121" height="89" fill="#3a3a3a"/>
<rect x="534" y="335.4" width="115.5" height="32.9" fill="#f0f0f0"/>
<rect x="537" y="340.4" width="109.5" height="22.9" fill="#c6c6c6"/>
<rect x="539.0" y="343.4" width="2.2" height="2.2" fill="#eaeaea"/>
<rect x="542.6" y="343.4" width="2.2" height="2.2" fill="#eaeaea"/>
<rect x="546.2" y="343.4" width="2.2" height="2.2" fill="#eaeaea"/>
<rect x="549.8" y="343.4" width="2.2" height="2.2" fill="#eaeaea"/>
<rect x="553.4" y="343.4" width="2.2" height="2.2" fill="#eaeaea"/>
<rect x="557.0" y="343.4" width="2.2" height="2.2" fill="#eaeaea"/>
<rect x="560.6" y="343.4" width="2.2" height="2.2" fill="#eaeaea"/>
<rect x="564.2" y="343.4" width="2.2" height="2.2" fill="#eaeaea"/>
<rect x="567.8" y="343.4" width="2.2" height="2.2" fill="#eaeaea"/>
<rect x="571.4" y="343.4" width="2.2" height="2.2" fill="#eaeaea"/>
<rect x="575.0" y="343.4" width="2.2" height="2.2" fill="#eaeaea"/>
<rect x="578.6" y="343.4" width="2.2" height="2.2" fill="#eaeaea"/>
<rect x="582.2" y="343.4" width="2.2" height="2.2" fill="#eaeaea"/>
<rect x="585.8" y="343.4" width="2.2" height="2.2" fill="#eaeaea"/>
<rect x="589.4" y="343.4" width="2.2" height="2.2" fill="#eaeaea"/>
<rect x="593.0" y="343.4" width="2.2" height="2.2" fill="#eaeaea"/>
<rect x="596.6" y="343.4" width="2.2" height="2.2" fill="#eaeaea"/>
<rect x="600.2" y="343.4" width="2.2" height="2.2" fill="#eaeaea"/>
<rect x="603.8" y="343.4" width="2.2" height="2.2" fill="#eaeaea"/>
<rect x="607.4" y="343.4" width="2.2" height="2.2" fill="#eaeaea"/>
<rect x="611.0" y="343.4" width="2.2" height="2.2" fill="#eaeaea"/>
<rect x="614.6" y="343.4" width="2.2" height="2.2" fill="#eaeaea"/>
<rect x="618.2" y="343.4" width="2.2" height="2.2" fill="#eaeaea"/>
<rect x="621.8" y="343.4" width="2.2" height="2.2" fill="#eaeaea"/>
<rect x="625.4" y="343.4" width="2.2" height="2.2" fill="#eaeaea"/>
<rect x="629.0" y="343.4" width="2.2" height="2.2" fill="#eaeaea"/>
<rect x="632.6" y="343.4" width="2.2" height="2.2" fill="#eaeaea"/>
<rect x="636.2" y="343.4" width="2.2" height="2.2" fill="#eaeaea"/>
<rect x="639.8" y="343.4" width="2.2" height="2.2" fill="#eaeaea"/>
<rect x="643.4" y="343.4" width="2.2" height="2.2" fill="#eaeaea"/>
<rect x="539.0" y="347.2" width="2.2" height="2.2" fill="#eaeaea"/>
<rect x="542.6" y="347.2" width="2.2" height="2.2" fill="#eaeaea"/>
<rect x="546.2" y="347.2" width="2.2" height="2.2" fill="#eaeaea"/>
<rect x="549.8" y="347.2" width="2.2" height="2.2" fill="#eaeaea"/>
<rect x="553.4" y="347.2" width="2.2" height="2.2" fill="#eaeaea"/>
<rect x="557.0" y="347.2" width="2.2" height="2.2" fill="#eaeaea"/>
<rect x="560.6" y="347.2" width="2.2" height="2.2" fill="#eaeaea"/>
<rect x="564.2" y="347.2" width="2.2" height="2.2" fill="#eaeaea"/>
<rect x="567.8" y="347.2" width="2.2" height="2.2" fill="#eaeaea"/>
<rect x="571.4" y="347.2" width="2.2" height="2.2" fill="#eaeaea"/>
<rect x="575.0" y="347.2" width="2.2" height="2.2" fill="#eaeaea"/>
<rect x="578.6" y="347.2" width="2.2" height="2.2" fill="#eaeaea"/>
<rect x="582.2" y="347.2" width="2.2" height="2.2" fill="#eaeaea"/>
<rect x="585.8" y="347.2" width="2.2" height="2.2" fill="#eaeaea"/>
<rect x="589.4" y="347.2" width="2.2" height="2.2" fill="#eaeaea"/>
<rect x="593.0" y="347.2" width="2.2" height="2.2" fill="#eaeaea"/>
<rect x="596.6" y="347.2" width="2.2" height="2.2" fill="#eaeaea"/>
<rect x="600.2" y="347.2" width="2.2" height="2.2" fill="#eaeaea"/>
<rect x="603.8" y="347.2" width="2.2" height="2.2" fill="#eaeaea"/>
<rect x="607.4" y="347.2" width="2.2" height="2.2" fill="#eaeaea"/>
<rect x="611.0" y="347.2" width="2.2" height="2.2" fill="#eaeaea"/>
<rect x="614.6" y="347.2" width="2.2" height="2.2" fill="#eaeaea"/>
<rect x="618.2" y="347.2" width="2.2" height="2.2" fill="#eaeaea"/>
<rect x="621.8" y="347.2" width="2.2" height="2.2" fill="#eaeaea"/>
<rect x="625.4" y="347.2" width="2.2" height="2.2" fill="#eaeaea"/>
<rect x="629.0" y="347.2" width="2.2" height="2.2" fill="#eaeaea"/>
<rect x="632.6" y="347.2" width="2.2" height="2.2" fill="#eaeaea"/>
<rect x="636.2" y="347.2" width="2.2" height="2.2" fill="#eaeaea"/>
<rect x="639.8" y="347.2" width="2.2" height="2.2" fill="#eaeaea"/>
<rect x="643.4" y="347.2" width="2.2" height="2.2" fill="#eaeaea"/>
<rect x="539.0" y="351.0" width="2.2" height="2.2" fill="#eaeaea"/>
<rect x="542.6" y="351.0" width="2.2" height="2.2" fill="#eaeaea"/>
<rect x="546.2" y="351.0" width="2.2" height="2.2" fill="#eaeaea"/>
<rect x="549.8" y="351.0" width="2.2" height="2.2" fill="#eaeaea"/>
<rect x="553.4" y="351.0" width="2.2" height="2.2" fill="#eaeaea"/>
<rect x="557.0" y="351.0" width="2.2" height="2.2" fill="#eaeaea"/>
<rect x="560.6" y="351.0" width="2.2" height="2.2" fill="#eaeaea"/>
<rect x="564.2" y="351.0" width="2.2" height="2.2" fill="#eaeaea"/>
<rect x="567.8" y="351.0" width="2.2" height="2.2" fill="#eaeaea"/>
<rect x="571.4" y="351.0" width="2.2" height="2.2" fill="#eaeaea"/>
<rect x="575.0" y="351.0" width="2.2" height="2.2" fill="#eaeaea"/>
<rect x="578.6" y="351.0" width="2.2" height="2.2" fill="#eaeaea"/>
<rect x="582.2" y="351.0" width="2.2" height="2.2" fill="#eaeaea"/>
<rect x="585.8" y="351.0" width="2.2" height="2.2" fill="#eaeaea"/>
<rect x="589.4" y="351.0" width="2.2" height="2.2" fill="#eaeaea"/>
<rect x="593.0" y="351.0" width="2.2" height="2.2" fill="#eaeaea"/>
<rect x="596.6" y="351.0" width="2.2" height="2.2" fill="#eaeaea"/>
<rect x="600.2" y="351.0" width="2.2" height="2.2" fill="#eaeaea"/>
<rect x="603.8" y="351.0" width="2.2" height="2.2" fill="#eaeaea"/>
<rect x="607.4" y="351.0" width="2.2" height="2.2" fill="#eaeaea"/>
<rect x="611.0" y="351.0" width="2.2" height="2.2" fill="#eaeaea"/>
<rect x="614.6" y="351.0" width="2.2" height="2.2" fill="#eaeaea"/>
<rect x="618.2" y="351.0" width="2.2" height="2.2" fill="#eaeaea"/>
<rect x="621.8" y="351.0" width="2.2" height="2.2" fill="#eaeaea"/>
<rect x="625.4" y="351.0" width="2.2" height="2.2" fill="#eaeaea"/>
<rect x="629.0" y="351.0" width="2.2" height="2.2" fill="#eaeaea"/>
<rect x="632.6" y="351.0" width="2.2" height="2.2" fill="#eaeaea"/>
<rect x="636.2" y="351.0" width="2.2" height="2.2" fill="#eaeaea"/>
<rect x="639.8" y="351.0" width="2.2" height="2.2" fill="#eaeaea"/>
<rect x="643.4" y="351.0" width="2.2" height="2.2" fill="#eaeaea"/>
<rect x="539.0" y="354.8" width="2.2" height="2.2" fill="#eaeaea"/>
<rect x="542.6" y="354.8" width="2.2" height="2.2" fill="#eaeaea"/>
<rect x="546.2" y="354.8" width="2.2" height="2.2" fill="#eaeaea"/>
<rect x="549.8" y="354.8" width="2.2" height="2.2" fill="#eaeaea"/>
<rect x="553.4" y="354.8" width="2.2" height="2.2" fill="#eaeaea"/>
<rect x="557.0" y="354.8" width="2.2" height="2.2" fill="#eaeaea"/>
<rect x="560.6" y="354.8" width="2.2" height="2.2" fill="#eaeaea"/>
<rect x="564.2" y="354.8" width="2.2" height="2.2" fill="#eaeaea"/>
<rect x="567.8" y="354.8" width="2.2" height="2.2" fill="#eaeaea"/>
<rect x="571.4" y="354.8" width="2.2" height="2.2" fill="#eaeaea"/>
<rect x="575.0" y="354.8" width="2.2" height="2.2" fill="#eaeaea"/>
<rect x="578.6" y="354.8" width="2.2" height="2.2" fill="#eaeaea"/>
<rect x="582.2" y="354.8" width="2.2" height="2.2" fill="#eaeaea"/>
<rect x="585.8" y="354.8" width="2.2" height="2.2" fill="#eaeaea"/>
<rect x="589.4" y="354.8" width="2.2" height="2.2" fill="#eaeaea"/>
<rect x="593.0" y="354.8" width="2.2" height="2.2" fill="#eaeaea"/>
<rect x="596.6" y="354.8" width="2.2" height="2.2" fill="#eaeaea"/>
<rect x="600.2" y="354.8" width="2.2" height="2.2" fill="#eaeaea"/>
<rect x="603.8" y="354.8" width="2.2" height="2.2" fill="#eaeaea"/>
<rect x="607.4" y="354.8" width="2.2" height="2.2" fill="#eaeaea"/>
<rect x="611.0" y="354.8" width="2.2" height="2.2" fill="#eaeaea"/>
<rect x="614.6" y="354.8" width="2.2" height="2.2" fill="#eaeaea"/>
<rect x="618.2" y="354.8" width="2.2" height="2.2" fill="#eaeaea"/>
<rect x="621.8" y="354.8" width="2.2" height="2.2" fill="#eaeaea"/>
<rect x="625.4" y="354.8" width="2.2" height="2.2" fill="#eaeaea"/>
<rect x="629.0" y="354.8" width="2.2" height="2.2" fill="#eaeaea"/>
<rect x="632.6" y="354.8" width="2.2" height="2.2" fill="#eaeaea"/>
<rect x="636.2" y="354.8" width="2.2" height="2.2" fill="#eaeaea"/>
<rect x="639.8" y="354.8" width="2.2" height="2.2" fill="#eaeaea"/>
<rect x="643.4" y="354.8" width="2.2" height="2.2" fill="#eaeaea"/>
<rect x="539.0" y="358.6" width="2.2" height="2.2" fill="#eaeaea"/>
<rect x="542.6" y="358.6" width="2.2" height="2.2" fill="#eaeaea"/>
<rect x="546.2" y="358.6" width="2.2" height="2.2" fill="#eaeaea"/>
<rect x="549.8" y="358.6" width="2.2" height="2.2" fill="#eaeaea"/>
<rect x="553.4" y="358.6" width="2.2" height="2.2" fill="#eaeaea"/>
<rect x="557.0" y="358.6" width="2.2" height="2.2" fill="#eaeaea"/>
<rect x="560.6" y="358.6" width="2.2" height="2.2" fill="#eaeaea"/>
<rect x="564.2" y="358.6" width="2.2" height="2.2" fill="#eaeaea"/>
<rect x="567.8" y="358.6" width="2.2" height="2.2" fill="#eaeaea"/>
<rect x="571.4" y="358.6" width="2.2" height="2.2" fill="#eaeaea"/>
<rect x="575.0" y="358.6" width="2.2" height="2.2" fill="#eaeaea"/>
<rect x="578.6" y="358.6" width="2.2" height="2.2" fill="#eaeaea"/>
<rect x="582.2" y="358.6" width="2.2" height="2.2" fill="#eaeaea"/>
<rect x="585.8" y="358.6" width="2.2" height="2.2" fill="#eaeaea"/>
<rect x="589.4" y="358.6" width="2.2" height="2.2" fill="#eaeaea"/>
<rect x="593.0" y="358.6" width="2.2" height="2.2" fill="#eaeaea"/>
<rect x="596.6" y="358.6" width="2.2" height="2.2" fill="#eaeaea"/>
<rect x="600.2" y="358.6" width="2.2" height="2.2" fill="#eaeaea"/>
<rect x="603.8" y="358.6" width="2.2" height="2.2" fill="#eaeaea"/>
<rect x="607.4" y="358.6" width="2.2" height="2.2" fill="#eaeaea"/>
<rect x="611.0" y="358.6" width="2.2" height="2.2" fill="#eaeaea"/>
<rect x="614.6" y="358.6" width="2.2" height="2.2" fill="#eaeaea"/>
<rect x="618.2" y="358.6" width="2.2" height="2.2" fill="#eaeaea"/>
<rect x="621.8" y="358.6" width="2.2" height="2.2" fill="#eaeaea"/>
<rect x="625.4" y="358.6" width="2.2" height="2.2" fill="#eaeaea"/>
<rect x="629.0" y="358.6" width="2.2" height="2.2" fill="#eaeaea"/>
<rect x="632.6" y="358.6" width="2.2" height="2.2" fill="#eaeaea"/>
<rect x="636.2" y="358.6" width="2.2" height="2.2" fill="#eaeaea"/>
<rect x="639.8" y="358.6" width="2.2" height="2.2" fill="#eaeaea"/>
<rect x="643.4" y="358.6" width="2.2" height="2.2" fill="#eaeaea"/>
<rect x="534" y="365.3" width="115.5" height="3" fill="#222"/>
<rect x="534" y="381.6" width="115.5" height="30.8" fill="#f0f0f0"/>
<rect x="537" y="386.6" width="109.5" height="20.8" fill="#c6c6c6"/>
<rect x="539.0" y="389.6" width="2.2" height="2.2" fill="#eaeaea"/>
<rect x="542.6" y="389.6" width="2.2" height="2.2" fill="#eaeaea"/>
<rect x="546.2" y="389.6" width="2.2" height="2.2" fill="#eaeaea"/>
<rect x="549.8" y="389.6" width="2.2" height="2.2" fill="#eaeaea"/>
<rect x="553.4" y="389.6" width="2.2" height="2.2" fill="#eaeaea"/>
<rect x="557.0" y="389.6" width="2.2" height="2.2" fill="#eaeaea"/>
<rect x="560.6" y="389.6" width="2.2" height="2.2" fill="#eaeaea"/>
<rect x="564.2" y="389.6" width="2.2" height="2.2" fill="#eaeaea"/>
<rect x="567.8" y="389.6" width="2.2" height="2.2" fill="#eaeaea"/>
<rect x="571.4" y="389.6" width="2.2" height="2.2" fill="#eaeaea"/>
<rect x="575.0" y="389.6" width="2.2" height="2.2" fill="#eaeaea"/>
<rect x="578.6" y="389.6" width="2.2" height="2.2" fill="#eaeaea"/>
<rect x="582.2" y="389.6" width="2.2" height="2.2" fill="#eaeaea"/>
<rect x="585.8" y="389.6" width="2.2" height="2.2" fill="#eaeaea"/>
<rect x="589.4" y="389.6" width="2.2" height="2.2" fill="#eaeaea"/>
<rect x="593.0" y="389.6" width="2.2" height="2.2" fill="#eaeaea"/>
<rect x="596.6" y="389.6" width="2.2" height="2.2" fill="#eaeaea"/>
<rect x="600.2" y="389.6" width="2.2" height="2.2" fill="#eaeaea"/>
<rect x="603.8" y="389.6" width="2.2" height="2.2" fill="#eaeaea"/>
<rect x="607.4" y="389.6" width="2.2" height="2.2" fill="#eaeaea"/>
<rect x="611.0" y="389.6" width="2.2" height="2.2" fill="#eaeaea"/>
<rect x="614.6" y="389.6" width="2.2" height="2.2" fill="#eaeaea"/>
<rect x="618.2" y="389.6" width="2.2" height="2.2" fill="#eaeaea"/>
<rect x="621.8" y="389.6" width="2.2" height="2.2" fill="#eaeaea"/>
<rect x="625.4" y="389.6" width="2.2" height="2.2" fill="#eaeaea"/>
<rect x="629.0" y="389.6" width="2.2" height="2.2" fill="#eaeaea"/>
<rect x="632.6" y="389.6" width="2.2" height="2.2" fill="#eaeaea"/>
<rect x="636.2" y="389.6" width="2.2" height="2.2" fill="#eaeaea"/>
<rect x="639.8" y="389.6" width="2.2" height="2.2" fill="#eaeaea"/>
<rect x="643.4" y="389.6" width="2.2" height="2.2" fill="#eaeaea"/>
<rect x="539.0" y="393.4" width="2.2" height="2.2" fill="#eaeaea"/>
<rect x="542.6" y="393.4" width="2.2" height="2.2" fill="#eaeaea"/>
<rect x="546.2" y="393.4" width="2.2" height="2.2" fill="#eaeaea"/>
<rect x="549.8" y="393.4" width="2.2" height="2.2" fill="#eaeaea"/>
<rect x="553.4" y="393.4" width="2.2" height="2.2" fill="#eaeaea"/>
<rect x="557.0" y="393.4" width="2.2" height="2.2" fill="#eaeaea"/>
<rect x="560.6" y="393.4" width="2.2" height="2.2" fill="#eaeaea"/>
<rect x="564.2" y="393.4" width="2.2" height="2.2" fill="#eaeaea"/>
<rect x="567.8" y="393.4" width="2.2" height="2.2" fill="#eaeaea"/>
<rect x="571.4" y="393.4" width="2.2" height="2.2" fill="#eaeaea"/>
<rect x="575.0" y="393.4" width="2.2" height="2.2" fill="#eaeaea"/>
<rect x="578.6" y="393.4" width="2.2" height="2.2" fill="#eaeaea"/>
<rect x="582.2" y="393.4" width="2.2" height="2.2" fill="#eaeaea"/>
<rect x="585.8" y="393.4" width="2.2" height="2.2" fill="#eaeaea"/>
<rect x="589.4" y="393.4" width="2.2" height="2.2" fill="#eaeaea"/>
<rect x="593.0" y="393.4" width="2.2" height="2.2" fill="#eaeaea"/>
<rect x="596.6" y="393.4" width="2.2" height="2.2" fill="#eaeaea"/>
<rect x="600.2" y="393.4" width="2.2" height="2.2" fill="#eaeaea"/>
<rect x="603.8" y="393.4" width="2.2" height="2.2" fill="#eaeaea"/>
<rect x="607.4" y="393.4" width="2.2" height="2.2" fill="#eaeaea"/>
<rect x="611.0" y="393.4" width="2.2" height="2.2" fill="#eaeaea"/>
<rect x="614.6" y="393.4" width="2.2" height="2.2" fill="#eaeaea"/>
<rect x="618.2" y="393.4" width="2.2" height="2.2" fill="#eaeaea"/>
<rect x="621.8" y="393.4" width="2.2" height="2.2" fill="#eaeaea"/>
<rect x="625.4" y="393.4" width="2.2" height="2.2" fill="#eaeaea"/>
<rect x="629.0" y="393.4" width="2.2" height="2.2" fill="#eaeaea"/>
<rect x="632.6" y="393.4" width="2.2" height="2.2" fill="#eaeaea"/>
<rect x="636.2" y="393.4" width="2.2" height="2.2" fill="#eaeaea"/>
<rect x="639.8" y="393.4" width="2.2" height="2.2" fill="#eaeaea"/>
<rect x="643.4" y="393.4" width="2.2" height="2.2" fill="#eaeaea"/>
<rect x="539.0" y="397.2" width="2.2" height="2.2" fill="#eaeaea"/>
<rect x="542.6" y="397.2" width="2.2" height="2.2" fill="#eaeaea"/>
<rect x="546.2" y="397.2" width="2.2" height="2.2" fill="#eaeaea"/>
<rect x="549.8" y="397.2" width="2.2" height="2.2" fill="#eaeaea"/>
<rect x="553.4" y="397.2" width="2.2" height="2.2" fill="#eaeaea"/>
<rect x="557.0" y="397.2" width="2.2" height="2.2" fill="#eaeaea"/>
<rect x="560.6" y="397.2" width="2.2" height="2.2" fill="#eaeaea"/>
<rect x="564.2" y="397.2" width="2.2" height="2.2" fill="#eaeaea"/>
<rect x="567.8" y="397.2" width="2.2" height="2.2" fill="#eaeaea"/>
<rect x="571.4" y="397.2" width="2.2" height="2.2" fill="#eaeaea"/>
<rect x="575.0" y="397.2" width="2.2" height="2.2" fill="#eaeaea"/>
<rect x="578.6" y="397.2" width="2.2" height="2.2" fill="#eaeaea"/>
<rect x="582.2" y="397.2" width="2.2" height="2.2" fill="#eaeaea"/>
<rect x="585.8" y="397.2" width="2.2" height="2.2" fill="#eaeaea"/>
<rect x="589.4" y="397.2" width="2.2" height="2.2" fill="#eaeaea"/>
<rect x="593.0" y="397.2" width="2.2" height="2.2" fill="#eaeaea"/>
<rect x="596.6" y="397.2" width="2.2" height="2.2" fill="#eaeaea"/>
<rect x="600.2" y="397.2" width="2.2" height="2.2" fill="#eaeaea"/>
<rect x="603.8" y="397.2" width="2.2" height="2.2" fill="#eaeaea"/>
<rect x="607.4" y="397.2" width="2.2" height="2.2" fill="#eaeaea"/>
<rect x="611.0" y="397.2" width="2.2" height="2.2" fill="#eaeaea"/>
<rect x="614.6" y="397.2" width="2.2" height="2.2" fill="#eaeaea"/>
<rect x="618.2" y="397.2" width="2.2" height="2.2" fill="#eaeaea"/>
<rect x="621.8" y="397.2" width="2.2" height="2.2" fill="#eaeaea"/>
<rect x="625.4" y="397.2" width="2.2" height="2.2" fill="#eaeaea"/>
<rect x="629.0" y="397.2" width="2.2" height="2.2" fill="#eaeaea"/>
<rect x="632.6" y="397.2" width="2.2" height="2.2" fill="#eaeaea"/>
<rect x="636.2" y="397.2" width="2.2" height="2.2" fill="#eaeaea"/>
<rect x="639.8" y="397.2" width="2.2" height="2.2" fill="#eaeaea"/>
<rect x="643.4" y="397.2" width="2.2" height="2.2" fill="#eaeaea"/>
<rect x="539.0" y="401.0" width="2.2" height="2.2" fill="#eaeaea"/>
<rect x="542.6" y="401.0" width="2.2" height="2.2" fill="#eaeaea"/>
<rect x="546.2" y="401.0" width="2.2" height="2.2" fill="#eaeaea"/>
<rect x="549.8" y="401.0" width="2.2" height="2.2" fill="#eaeaea"/>
<rect x="553.4" y="401.0" width="2.2" height="2.2" fill="#eaeaea"/>
<rect x="557.0" y="401.0" width="2.2" height="2.2" fill="#eaeaea"/>
<rect x="560.6" y="401.0" width="2.2" height="2.2" fill="#eaeaea"/>
<rect x="564.2" y="401.0" width="2.2" height="2.2" fill="#eaeaea"/>
<rect x="567.8" y="401.0" width="2.2" height="2.2" fill="#eaeaea"/>
<rect x="571.4" y="401.0" width="2.2" height="2.2" fill="#eaeaea"/>
<rect x="575.0" y="401.0" width="2.2" height="2.2" fill="#eaeaea"/>
<rect x="578.6" y="401.0" width="2.2" height="2.2" fill="#eaeaea"/>
<rect x="582.2" y="401.0" width="2.2" height="2.2" fill="#eaeaea"/>
<rect x="585.8" y="401.0" width="2.2" height="2.2" fill="#eaeaea"/>
<rect x="589.4" y="401.0" width="2.2" height="2.2" fill="#eaeaea"/>
<rect x="593.0" y="401.0" width="2.2" height="2.2" fill="#eaeaea"/>
<rect x="596.6" y="401.0" width="2.2" height="2.2" fill="#eaeaea"/>
<rect x="600.2" y="401.0" width="2.2" height="2.2" fill="#eaeaea"/>
<rect x="603.8" y="401.0" width="2.2" height="2.2" fill="#eaeaea"/>
<rect x="607.4" y="401.0" width="2.2" height="2.2" fill="#eaeaea"/>
<rect x="611.0" y="401.0" width="2.2" height="2.2" fill="#eaeaea"/>
<rect x="614.6" y="401.0" width="2.2" height="2.2" fill="#eaeaea"/>
<rect x="618.2" y="401.0" width="2.2" height="2.2" fill="#eaeaea"/>
<rect x="621.8" y="401.0" width="2.2" height="2.2" fill="#eaeaea"/>
<rect x="625.4" y="401.0" width="2.2" height="2.2" fill="#eaeaea"/>
<rect x="629.0" y="401.0" width="2.2" height="2.2" fill="#eaeaea"/>
<rect x="632.6" y="401.0" width="2.2" height="2.2" fill="#eaeaea"/>
<rect x="636.2" y="401.0" width="2.2" height="2.2" fill="#eaeaea"/>
<rect x="639.8" y="401.0" width="2.2" height="2.2" fill="#eaeaea"/>
<rect x="643.4" y="401.0" width="2.2" height="2.2" fill="#eaeaea"/>
<rect x="539.0" y="404.8" width="2.2" height="2.2" fill="#eaeaea"/>
<rect x="542.6" y="404.8" width="2.2" height="2.2" fill="#eaeaea"/>
<rect x="546.2" y="404.8" width="2.2" height="2.2" fill="#eaeaea"/>
<rect x="549.8" y="404.8" width="2.2" height="2.2" fill="#eaeaea"/>
<rect x="553.4" y="404.8" width="2.2" height="2.2" fill="#eaeaea"/>
<rect x="557.0" y="404.8" width="2.2" height="2.2" fill="#eaeaea"/>
<rect x="560.6" y="404.8" width="2.2" height="2.2" fill="#eaeaea"/>
<rect x="564.2" y="404.8" width="2.2" height="2.2" fill="#eaeaea"/>
<rect x="567.8" y="404.8" width="2.2" height="2.2" fill="#eaeaea"/>
<rect x="571.4" y="404.8" width="2.2" height="2.2" fill="#eaeaea"/>
<rect x="575.0" y="404.8" width="2.2" height="2.2" fill="#eaeaea"/>
<rect x="578.6" y="404.8" width="2.2" height="2.2" fill="#eaeaea"/>
<rect x="582.2" y="404.8" width="2.2" height="2.2" fill="#eaeaea"/>
<rect x="585.8" y="404.8" width="2.2" height="2.2" fill="#eaeaea"/>
<rect x="589.4" y="404.8" width="2.2" height="2.2" fill="#eaeaea"/>
<rect x="593.0" y="404.8" width="2.2" height="2.2" fill="#eaeaea"/>
<rect x="596.6" y="404.8" width="2.2" height="2.2" fill="#eaeaea"/>
<rect x="600.2" y="404.8" width="2.2" height="2.2" fill="#eaeaea"/>
<rect x="603.8" y="404.8" width="2.2" height="2.2" fill="#eaeaea"/>
<rect x="607.4" y="404.8" width="2.2" height="2.2" fill="#eaeaea"/>
<rect x="611.0" y="404.8" width="2.2" height="2.2" fill="#eaeaea"/>
<rect x="614.6" y="404.8" width="2.2" height="2.2" fill="#eaeaea"/>
<rect x="618.2" y="404.8" width="2.2" height="2.2" fill="#eaeaea"/>
<rect x="621.8" y="404.8" width="2.2" height="2.2" fill="#eaeaea"/>
<rect x="625.4" y="404.8" width="2.2" height="2.2" fill="#eaeaea"/>
<rect x="629.0" y="404.8" width="2.2" height="2.2" fill="#eaeaea"/>
<rect x="632.6" y="404.8" width="2.2" height="2.2" fill="#eaeaea"/>
<rect x="636.2" y="404.8" width="2.2" height="2.2" fill="#eaeaea"/>
<rect x="639.8" y="404.8" width="2.2" height="2.2" fill="#eaeaea"/>
<rect x="643.4" y="404.8" width="2.2" height="2.2" fill="#eaeaea"/>
<rect x="534" y="409.4" width="115.5" height="3" fill="#222"/>
<rect x="537" y="339.5" width="109.5" height="6.5" fill="#9c9c9c"/>
<rect x="537" y="385.5" width="109.5" height="5" fill="#a8a8a8"/>
<rect x="567.0" y="337" width="1.2" height="30" fill="#f5f5f5"/>
<rect x="586.4" y="337" width="1.2" height="30" fill="#f5f5f5"/>
<rect x="611.1" y="337" width="1.2" height="30" fill="#f5f5f5"/>
<rect x="592" y="383" width="1.2" height="28" fill="#f5f5f5"/>
<rect x="545" y="366" width="8" height="4" fill="#111"/>
<rect x="568" y="366" width="8" height="4" fill="#111"/>
<rect x="592" y="366" width="8" height="4" fill="#111"/>
<rect x="622" y="366" width="8" height="4" fill="#111"/>
<rect x="534" y="410" width="115" height="6" fill="#111"/>
</g>
<g stroke="#e0101c" stroke-width="2" fill="none">
<path d="M549.2,364 V466 H493"/>
<path d="M574.5,364 V468"/>
<path d="M598.5,364 V457"/>
<path d="M628.5,364 V457"/>
<path d="M543,400 H426"/>
<path d="M524.8,165 V326"/>
<path d="M378,151 H296"/>
</g>
<g fill="#e0101c">
<path d="M549.2,357.5 l-4.2,8.5 h8.4 z"/>
<path d="M574.5,357.5 l-4.2,8.5 h8.4 z"/>
<path d="M598.5,357.5 l-4.2,8.5 h8.4 z"/>
<path d="M628.5,357.5 l-4.2,8.5 h8.4 z"/>
<path d="M486.5,466 l11.5,-4 v8 z"/>
<path d="M416.5,400 l12,-4 v8 z"/>
<path d="M290,151 l8.5,-4.2 v8.4 z"/>
<path d="M524.8,160 l-4,8 h8 z"/>
</g>
<circle cx="549.1" cy="332.9" r="6.3" fill="#d8101c"/>
<text x="549.1" y="336.3" font-size="9.5" class="b" fill="#111" text-anchor="middle">1</text>
<circle cx="575.3" cy="333" r="6.3" fill="#d8101c"/>
<text x="575.3" y="336.4" font-size="9.5" class="b" fill="#111" text-anchor="middle">2</text>
<circle cx="600.1" cy="333" r="6.3" fill="#d8101c"/>
<text x="600.1" y="336.4" font-size="9.5" class="b" fill="#111" text-anchor="middle">3</text>
<circle cx="629.5" cy="333" r="6.3" fill="#d8101c"/>
<text x="629.5" y="336.4" font-size="9.5" class="b" fill="#111" text-anchor="middle">4</text>
<circle cx="563.4" cy="420.6" r="6.3" fill="#d8101c"/>
<text x="563.4" y="424.0" font-size="9.5" class="b" fill="#111" text-anchor="middle">5</text>
<circle cx="478.3" cy="466" r="6.4" fill="#d8101c"/>
<text x="478.3" y="469.1" font-size="9.4" class="b" fill="#fff" text-anchor="middle">1</text>
<circle cx="573.6" cy="474.2" r="6.4" fill="#d8101c"/>
<text x="573.6" y="477.3" font-size="9.4" class="b" fill="#fff" text-anchor="middle">2</text>
<circle cx="597.7" cy="463.4" r="6.4" fill="#d8101c"/>
<text x="597.7" y="466.5" font-size="9.4" class="b" fill="#fff" text-anchor="middle">3</text>
<circle cx="628.5" cy="463.2" r="6.4" fill="#d8101c"/>
<text x="628.5" y="466.3" font-size="9.4" class="b" fill="#fff" text-anchor="middle">4</text>
<circle cx="406" cy="401" r="6.4" fill="#d8101c"/>
<text x="406" y="404.1" font-size="9.4" class="b" fill="#fff" text-anchor="middle">5</text>
<g stroke="#111" stroke-width="2.2" fill="none">
<path d="M574.2,478 V481.6 H533"/>
<path d="M597.9,469 V502.7 H621"/>
<path d="M634,463.2 H758.5 V499"/>
</g>
<rect x="501.7" y="472" width="25.5" height="20" rx="2.5" fill="#4c4c4c"/>
<rect x="503" y="473.2" width="23" height="3" rx="1" fill="#5e5e5e"/>
<path d="M527,475 C530,476 531,478 533,478.5 L537,479.5 V483.8 L533,484.6 C531,485 530,487 527,489 Z" fill="#383838"/>
<path d="M529.5,477 v9 M531.5,478 v7 M533.5,478.7 v5.6" stroke="#222" stroke-width="0.7"/>
<rect x="628.5" y="492" width="24.3" height="18" rx="2.5" fill="#4c4c4c"/>
<rect x="629.5" y="493.2" width="22" height="3" rx="1" fill="#5e5e5e"/>
<path d="M628.5,494.5 C625.5,495.5 624.5,497.5 622.5,498.5 L618,500.5 V505 L622.5,506 C624.5,507 625.5,508.5 628.5,509 Z" fill="#383838"/>
<path d="M626,496.5 v10.5 M624,497.5 v9 M622,498.7 v7" stroke="#222" stroke-width="0.7"/>
<g class="b" fill="#2a2a2a" text-anchor="middle">
<text x="397.5" y="468" font-size="13">8-PIN Anschluss</text>
<text x="398" y="484.1" font-size="13">(für Canbus)</text>
<text x="541.5" y="507.8" font-size="13" textLength="57" lengthAdjust="spacingAndGlyphs" text-anchor="middle">4Pin USB</text>
<text x="634" y="489.8" font-size="13">6Pin USB</text>
</g>
<rect x="332.6" y="454.4" width="134" height="36" fill="none" stroke="#e0101c" stroke-width="2"/>
<!-- SIM BOX -->
<rect x="287" y="310" width="109" height="136" rx="9" fill="#fff" stroke="#d4101e" stroke-width="2"/>
<g class="b" fill="#1a1a1a" text-anchor="middle">
<text x="309.9" y="331.5" font-size="11.8">SIM</text>
<text x="312" y="345.8" font-size="11.8">Karte</text>
</g>
<!-- cable bundle -->
<g fill="none" stroke-linecap="round">
<path d="M351,313 C356,325 360,338 366,350 C372,360 381,366 382,372 C383,378 378,378 372,372 C366,366 362,358 356,348 C352,340 349,334 346,330" stroke="#151515" stroke-width="2.8"/>
<path d="M346,330 C350,342 354,352 358,362 C361,368 364,372 365,370" stroke="#1a1a1a" stroke-width="2"/>
<path d="M344,331 C346,345 348,358 350,372" stroke="#222" stroke-width="1.4"/>
<path d="M343,331 C341,345 340,358 340,371" stroke="#222" stroke-width="1.4"/>
<path d="M345,332 C350,348 354,360 356,371" stroke="#333" stroke-width="1.2"/>
<path d="M344,333 C338,345 334,355 331,369" stroke="#1a1a1a" stroke-width="1.6"/>
<path d="M343,340 C335,340 330,345 330,362" stroke="#9a9a9a" stroke-width="1"/>
<path d="M342,345 C336,352 332,360 326,372" stroke="#222" stroke-width="1.2"/>
<path d="M346,336 C352,350 358,360 362,368" stroke="#222" stroke-width="1.2"/>
<path d="M317,370 C322,369 326,368 330,368" stroke="#4a80b0" stroke-width="1"/>
<path d="M336,363 L360,363" stroke="#ddd" stroke-width="2.2"/>
</g>
<path d="M339,316 L348.5,313 L352.5,327 L343,330.5 Z" fill="#1a1a1a"/>
<rect x="331.5" y="316.5" width="6" height="6" fill="#e4e4e4" stroke="#aaa" stroke-width="0.5"/>
<!-- RCA plugs -->
<g stroke-linecap="round">
<path d="M322.6,374.4 L318.1,380.7" stroke="#222" stroke-width="3"/>
<path d="M331.2,369.9 L325,379" stroke="#1a9a8a" stroke-width="3.8"/>
<path d="M335,371 L329,381" stroke="#222" stroke-width="2.5"/>
<path d="M339.7,369.9 L335.2,383.4" stroke="#ecc418" stroke-width="4.4"/>
<path d="M344.2,371.7 L340.8,386" stroke="#9a9a9a" stroke-width="5"/>
<path d="M347,371.7 L346.6,386" stroke="#9a9a9a" stroke-width="4.8"/>
<path d="M344.2,371.7 L340.8,386" stroke="#f2f2f2" stroke-width="4"/>
<path d="M344.2,371.7 L340.8,386" stroke="#d8d8d8" stroke-width="1" />
<path d="M347,371.7 L346.6,386" stroke="#eeeeee" stroke-width="3.8"/>
<path d="M349.6,373.5 L351,386" stroke="#d81a20" stroke-width="4.2"/>
<path d="M353.2,371.7 L356,384.3" stroke="#f0c818" stroke-width="4.4"/>
<path d="M357.7,371.7 L362.3,382.5" stroke="#e8c020" stroke-width="4.4"/>
<path d="M364,368 L366.8,380.7" stroke="#d81a20" stroke-width="4.2"/>
</g>
<!-- small arrow down -->
<path d="M331,380 V392" stroke="#d8101c" stroke-width="1.5"/>
<path d="M331,397 l-3,-6 h6 z" fill="#d8101c"/>
<!-- dashed ellipse -->
<ellipse cx="340" cy="420" rx="49" ry="21.5" fill="none" stroke="#d8101c" stroke-width="2" stroke-dasharray="7,4"/>
<!-- mic -->
<path d="M318,410 C309,411 303,417 304,424 C305,429 310,431 315,430" fill="none" stroke="#333" stroke-width="0.9"/>
<circle cx="321" cy="410" r="4.3" fill="#151515"/>
<path d="M314,413 C316,416 321,416 324,414" fill="none" stroke="#151515" stroke-width="2"/>
<path d="M309,428 C314,424 322,426 330,429 C336,431 341,430 344,428" fill="none" stroke="#151515" stroke-width="5" stroke-linecap="round"/>
<path d="M311,432 C318,434 328,434 338,432" fill="none" stroke="#151515" stroke-width="2.4" stroke-linecap="round"/>
<path d="M340,428 L345,421" stroke="#151515" stroke-width="1.8"/>
<path d="M344,422 L347,419" stroke="#555" stroke-width="1"/>
<text x="331.5" y="417" font-size="12" fill="#222" textLength="48.5" lengthAdjust="spacingAndGlyphs">Mikrofon</text>

<!-- HARNESS -->
<g fill="none" stroke-linecap="round">
<!-- main bundle from top connector -->
<path d="M183.0,422 C186.0,436 195.0,440 197.0,458 C199.0,478 184.0,505 174.0,534" stroke="#2a8a4a" stroke-width="1.9"/>
<path d="M184.0,422 C187.0,436 195.9,440 197.9,458 C199.9,478 186.2,505 176.2,534" stroke="#222" stroke-width="1.9"/>
<path d="M185.0,422 C188.0,436 196.8,440 198.8,458 C200.8,478 188.4,505 178.4,534" stroke="#5a8ab0" stroke-width="1.9"/>
<path d="M186.0,422 C189.0,436 197.7,440 199.7,458 C201.7,478 190.6,505 180.6,534" stroke="#d8d8d8" stroke-width="1.9"/>
<path d="M187.0,422 C190.0,436 198.6,440 200.6,458 C202.6,478 192.8,505 182.8,534" stroke="#777" stroke-width="1.9"/>
<path d="M188.0,422 C191.0,436 199.5,440 201.5,458 C203.5,478 195.0,505 185.0,534" stroke="#1a6a3a" stroke-width="1.9"/>
<path d="M189.0,422 C192.0,436 200.4,440 202.4,458 C204.4,478 197.2,505 187.2,534" stroke="#3a7a3a" stroke-width="1.9"/>
<path d="M190.0,422 C193.0,436 201.3,440 203.3,458 C205.3,478 199.4,505 189.4,534" stroke="#111" stroke-width="1.9"/>
<path d="M191.0,422 C194.0,436 199.0,440 201.0,458 C203.0,478 210.0,505 214.0,533" stroke="#e08a20" stroke-width="1.8"/>
<path d="M192.0,422 C195.0,436 199.9,440 201.9,458 C203.9,478 211.6,505 215.6,533" stroke="#6a4ab0" stroke-width="1.8"/>
<path d="M193.0,422 C196.0,436 200.8,440 202.8,458 C204.8,478 213.2,505 217.2,533" stroke="#c87830" stroke-width="1.8"/>
<path d="M194.0,422 C197.0,436 201.7,440 203.7,458 C205.7,478 214.8,505 218.8,533" stroke="#d0b040" stroke-width="1.8"/>
<path d="M195.0,422 C198.0,436 202.6,440 204.6,458 C206.6,478 216.4,505 220.4,533" stroke="#d86070" stroke-width="1.8"/>
<path d="M196.0,422 C199.0,436 203.5,440 205.5,458 C207.5,478 218.0,505 222.0,533" stroke="#3050c0" stroke-width="1.8"/>
<path d="M197.0,422 C200.0,436 204.4,440 206.4,458 C208.4,478 219.6,505 223.6,533" stroke="#e0a060" stroke-width="1.8"/>
<rect x="195" y="447" width="9" height="3" fill="#e8e8e8" transform="rotate(10 199 448)"/>
<rect x="196" y="486" width="10" height="2.5" fill="#ddd"/>
<!-- blue loose wire -->
<path d="M213,488 C205,505 200,520 196,535" stroke="#2850c8" stroke-width="1.3"/>
<!-- gray-blue wire to 8-pin connector -->
<path d="M218,533 C218,505 225,485 245,476 C258,471 270,472 281,478" stroke="#8a90b8" stroke-width="1.2"/>
<!-- RCA black cables -->
<path d="M161,447 C172,455 183,470 187,490 C190,505 190,520 188,534" stroke="#111" stroke-width="1.8"/>
<path d="M148,466 C160,462 170,462 178,470 C186,480 186,505 185,533" stroke="#111" stroke-width="1.8"/>
</g>
<!-- top connector -->
<rect x="181.5" y="411.5" width="17" height="11" fill="#111"/>
<rect x="182.5" y="419" width="15" height="3" fill="#333"/>
<!-- red RCA -->
<path d="M138,428 L144,432" stroke="#666" stroke-width="1.5"/>
<path d="M143,430 L150,436" stroke="#bbb" stroke-width="3"/>
<path d="M149,435 L162,447" stroke="#c8101a" stroke-width="4.5" stroke-linecap="round"/>
<!-- white RCA -->
<path d="M125,479 L131,476" stroke="#999" stroke-width="1.5"/>
<path d="M130,476 L149,467" stroke="#e0e0e0" stroke-width="4.5" stroke-linecap="round"/>
<path d="M131,477 L148,469" stroke="#bcbcbc" stroke-width="1"/>
<!-- tags -->
<rect x="158" y="449" width="11" height="6" fill="#eee" stroke="#bbb" stroke-width="0.6" transform="rotate(25 163 452)"/>
<rect x="151" y="461" width="12" height="5.5" fill="#eee" stroke="#bbb" stroke-width="0.6"/>
<rect x="188" y="515" width="5" height="9" fill="#eee" stroke="#bbb" stroke-width="0.5"/>
<rect x="198" y="510" width="5" height="9" fill="#eee" stroke="#bbb" stroke-width="0.5"/>
<!-- bottom big connector -->
<path d="M156,533 L191,533 L192,564 L154,563 Z" fill="#141414"/>
<rect x="157" y="538" width="32" height="2" fill="#2a2a2a"/>
<rect x="157" y="549" width="33" height="1.5" fill="#2a2a2a"/>
<rect x="166" y="531" width="12" height="3" fill="#b04050"/>
<!-- small white connector in red box -->
<rect x="214" y="536" width="13" height="6" fill="#eee" stroke="#aaa" stroke-width="0.6"/>
<rect x="211.8" y="532.3" width="18.4" height="13.1" fill="none" stroke="#d4101e" stroke-width="1.6"/>
<!-- 8-pin small connector -->
<rect x="282" y="476" width="12" height="7" fill="#ddd" stroke="#999" stroke-width="0.6"/>
<rect x="279.5" y="473.6" width="19" height="12.4" fill="none" stroke="#d4101e" stroke-width="1.6"/>
<path d="M298.5,474.5 H331" stroke="#d4101e" stroke-width="1.8"/>
<!-- canbus line -->
<path d="M221,545.4 V556 H258" stroke="#d4101e" stroke-width="1.8" fill="none"/>
<!-- Canbus module -->
<rect x="258" y="541" width="41" height="27" fill="#4a1a1e"/>
<rect x="258" y="541" width="41" height="3" fill="#2a0c0e"/>
<rect x="280" y="545" width="17" height="21" fill="#e6e2e2"/>
<text x="276.5" y="537.6" font-size="10.5" class="b" fill="#1a1a1a" text-anchor="middle">Canbus</text>

<!-- CAMERA -->
<g>
<!-- bracket -->
<path d="M442,525 C441,517 448,513 457,514 L470,518 L468,541 L457,546 C450,544 443,535 442,525 Z" fill="#1a1a1a"/>
<ellipse cx="447.5" cy="530" rx="2" ry="2.8" fill="#f4f4f4"/>
<ellipse cx="455" cy="523" rx="1.6" ry="2.2" fill="#9a9a9a"/>
<path d="M452,538 L462,534" stroke="#3a3a3a" stroke-width="1"/>
<!-- body -->
<path d="M465,523 C467,515 476,511.5 487,511.5 L504,511.5 C510.5,511.5 514,516 514,523 L514,547 C514,554.5 509,559.5 501,560 L481,560 C472,559.5 466.5,554 466,547 Z" fill="#161616"/>
<path d="M470,548 C474,556 480,558 490,558 L503,558" fill="none" stroke="#2c2c2c" stroke-width="1.2"/>
<path d="M468,522 C470,517 476,514 484,514" fill="none" stroke="#3a3a3a" stroke-width="1.2"/>
<!-- lens -->
<circle cx="496" cy="528" r="13" fill="#202020"/>
<circle cx="496" cy="528" r="10.5" fill="#080808"/>
<circle cx="496" cy="528" r="7.5" fill="#1a2036"/>
<ellipse cx="493.5" cy="526" rx="3.8" ry="3.2" fill="#5a78c0"/>
<ellipse cx="499" cy="531" rx="2" ry="1.6" fill="#7a5a9a"/>
<circle cx="492.5" cy="525" r="1.3" fill="#e8f0ff"/>
<!-- cable -->
<path d="M480,563.5 H756" stroke="#111" stroke-width="2"/>
<rect x="526" y="559.5" width="25" height="8" rx="4" fill="#1c1c1c"/>
<!-- GND / +12V wires -->
<path d="M609.4,563.5 L635.5,546 V538.5" fill="none" stroke="#111" stroke-width="2.8"/>
<path d="M612.5,563.5 L652,553 V538.5" fill="none" stroke="#e0101c" stroke-width="2.8"/>
</g>
<text x="610.3" y="533.6" font-size="12" class="b" fill="#1e1e1e" text-anchor="middle">GND</text>
<text x="555" y="547" font-size="12.2" class="b" fill="#1e1e1e" textLength="70.6" lengthAdjust="spacingAndGlyphs">(Rücklicht)</text>
<text x="660.5" y="545.3" font-size="12.5" class="b" fill="#e0101c">+12V</text>

<!-- RCA connectors -->
<g>
<path d="M754,564 V546" stroke="#111" stroke-width="2.2"/>
<!-- female (upper) -->
<rect x="759" y="498" width="10" height="11" fill="#b08a1a"/>
<path d="M768,497 L790,496 L797,498 L797,510 L790,512 L768,511 Z" fill="#c89c20"/>
<path d="M770,499 L790,498" stroke="#e0c050" stroke-width="1.2"/>
<rect x="796" y="498" width="6" height="12" rx="1.5" fill="#1a1a1a"/>
<rect x="797.5" y="500" width="3" height="8" fill="#8a8a8a"/>
<!-- male (lower) -->
<rect x="755" y="540" width="10" height="11" fill="#e0bc10"/>
<path d="M764,539 C772,537 778,536 784,537 L791,538 L791,549 L784,550 C778,551 772,550 764,551 Z" fill="#f0d020"/>
<rect x="790" y="538.5" width="5" height="11" fill="#f3e070" stroke="#bfa020" stroke-width="0.8"/>
<rect x="795" y="542" width="6" height="3.5" fill="#cfcfcf"/>
</g>
<!-- Kamera Signal bracket arrow -->
<g stroke="#e0101c" stroke-width="2" fill="none">
<path d="M816,504 H830 V540 H816"/>
</g>
<g fill="#e0101c">
<path d="M807.5,504 l9.5,-5.5 v11 z"/>
<path d="M807.5,540 l9.5,-5.5 v11 z"/>
</g>
<text x="839" y="528" font-size="12.8" class="b" fill="#e0101c" textLength="91" lengthAdjust="spacingAndGlyphs">Kamera Signal</text>

<g class="b" font-size="14" fill="#111" text-anchor="end">
<text x="553.5" y="619.1">GND</text>
<text x="553.5" y="643.0">ACC</text>
<text x="553.5" y="667.6">BACK</text>
<text x="553.5" y="692.5">KEY1</text>
<text x="553.5" y="717.4">FR-</text>
<text x="553.5" y="742.0">FR+</text>
<text x="553.5" y="766.6">FL-</text>
<text x="553.5" y="790.6">FL+</text>
<text x="553.5" y="815.4">B+</text>
<text x="553.5" y="840.0">LL</text>
<text x="553.5" y="868.2">KEY2</text>
<text x="553.5" y="889.0">ANT-12V</text>
<text x="553.5" y="914.6">RL-</text>
<text x="553.5" y="938.6">RL+</text>
<text x="553.5" y="963.0">RR-</text>
<text x="553.5" y="987.0">RR+</text>
</g>
<g stroke="#111" stroke-width="2">
<path d="M563,612.2 H598"/>
<path d="M563,638 H598"/>
<path d="M563,662.6 H598"/>
<path d="M563,687.5 H598"/>
<path d="M563,712.4 H598"/>
<path d="M563,737 H598"/>
<path d="M563,761.6 H598"/>
<path d="M563,785.6 H598"/>
<path d="M563,810.4 H598"/>
<path d="M563,835 H598"/>
<path d="M563,863.2 H598"/>
<path d="M563,884 H598"/>
<path d="M563,909.6 H598"/>
<path d="M563,933.6 H598"/>
<path d="M563,958 H598"/>
<path d="M563,982 H598"/>
<path d="M597.5,611.2 V983"/>
</g>
<rect x="340" y="597.5" width="61.5" height="56" rx="8.5" fill="#fff" stroke="#d01a28" stroke-width="2"/>
<g>
<rect x="352" y="601.5" width="6" height="8" fill="#fff" stroke="#3a4a60" stroke-width="0.9"/>
<rect x="382.5" y="601.5" width="6" height="8" fill="#fff" stroke="#3a4a60" stroke-width="0.9"/>
<rect x="348.5" y="613" width="44" height="27.5" fill="#4ea2e4" stroke="#3a4a60" stroke-width="0.9"/>
<rect x="349" y="635.5" width="43" height="4.5" fill="#2e7cc4"/>
<rect x="345.5" y="608.8" width="50.5" height="5" rx="1.2" fill="#fff" stroke="#3a4a60" stroke-width="0.9"/>
<rect x="345.5" y="640" width="50.5" height="4.2" rx="1.2" fill="#fff" stroke="#3a4a60" stroke-width="0.9"/>
<path d="M352,619.5 h6 M355,616.5 v6" stroke="#1a2a48" stroke-width="1.4"/>
<path d="M383,619.5 h6" stroke="#1a2a48" stroke-width="1.4"/>
<path d="M371.5,615.5 L365.5,625.5 L370.5,625.5 L367.5,635.5 L377,622.5 L372,622.5 L375.5,615.5 Z" fill="#fff" stroke="#1a2a48" stroke-width="0.9" stroke-linejoin="round"/>
</g>
<g stroke="#e0101c" stroke-width="2" fill="none">
<path d="M401.5,613.1 H505"/>
<path d="M401.5,637.6 H432"/>
<path d="M371,653.5 V810.8 H380"/>
<path d="M334,747.6 V687.6 H505"/>
<path d="M334,804.4 V863.5 H505"/>
<path d="M307.2,776 H236"/>
</g>
<g fill="#e0101c">
<path d="M513,613.1 l-9.3,-5.1 v10.2 z"/>
<path d="M440,637.6 l-10,-5.2 v10.4 z"/>
<path d="M513,687.6 l-10,-5.2 v10.4 z"/>
<path d="M513,863.5 l-10,-5.2 v10.4 z"/>
<path d="M388.5,810.8 l-10,-5.2 v10.4 z"/>
<path d="M227,776 l10,-5.2 v10.4 z"/>
</g>
<rect x="462.4" y="709.2" width="36" height="32.5" rx="4.5" fill="#fff" stroke="#d01a28" stroke-width="2"/>
<path d="M478.00,722.73 A3.2,3.2 0 0 0 478.00,728.27" fill="none" stroke="#1e5aa8" stroke-width="2" stroke-linecap="round"/>
<path d="M476.71,719.57 A6.6,6.6 0 0 0 476.71,731.43" fill="none" stroke="#1e5aa8" stroke-width="2" stroke-linecap="round"/>
<path d="M475.45,716.18 A10.2,10.2 0 0 0 475.45,734.82" fill="none" stroke="#1e5aa8" stroke-width="2" stroke-linecap="round"/>
<path d="M482.4,717.2 C484.9,719.5 486.4,721.0 487.4,721.3 H492.9 V729.7 H487.4 C486.4,730.0 484.9,731.5 482.4,733.8 Z" fill="#2a62b8"/>
<path d="M498.4,713.1999999999999 H511 M498.4,736.8 H511" stroke="#e0101c" stroke-width="3"/>
<path d="M519,713.1999999999999 l-9.5,-5.4 v10.8 z M519,736.8 l-9.5,-5.4 v10.8 z" fill="#e0101c"/>
<rect x="462.4" y="758.4" width="36" height="32.5" rx="4.5" fill="#fff" stroke="#d01a28" stroke-width="2"/>
<path d="M478.00,771.93 A3.2,3.2 0 0 0 478.00,777.47" fill="none" stroke="#1e5aa8" stroke-width="2" stroke-linecap="round"/>
<path d="M476.71,768.77 A6.6,6.6 0 0 0 476.71,780.63" fill="none" stroke="#1e5aa8" stroke-width="2" stroke-linecap="round"/>
<path d="M475.45,765.38 A10.2,10.2 0 0 0 475.45,784.02" fill="none" stroke="#1e5aa8" stroke-width="2" stroke-linecap="round"/>
<path d="M482.4,766.4 C484.9,768.6999999999999 486.4,770.1999999999999 487.4,770.4999999999999 H492.9 V778.9 H487.4 C486.4,779.1999999999999 484.9,780.6999999999999 482.4,782.9999999999999 Z" fill="#2a62b8"/>
<path d="M498.4,762.4 H511 M498.4,785.4 H511" stroke="#e0101c" stroke-width="3"/>
<path d="M519,762.4 l-9.5,-5.4 v10.8 z M519,785.4 l-9.5,-5.4 v10.8 z" fill="#e0101c"/>
<rect x="464.8" y="906.4" width="36" height="32.5" rx="4.5" fill="#fff" stroke="#d01a28" stroke-width="2"/>
<path d="M480.40,919.93 A3.2,3.2 0 0 0 480.40,925.47" fill="none" stroke="#1e5aa8" stroke-width="2" stroke-linecap="round"/>
<path d="M479.11,916.77 A6.6,6.6 0 0 0 479.11,928.63" fill="none" stroke="#1e5aa8" stroke-width="2" stroke-linecap="round"/>
<path d="M477.85,913.38 A10.2,10.2 0 0 0 477.85,932.02" fill="none" stroke="#1e5aa8" stroke-width="2" stroke-linecap="round"/>
<path d="M484.8,914.4 C487.3,916.6999999999999 488.8,918.1999999999999 489.8,918.4999999999999 H495.3 V926.9 H489.8 C488.8,927.1999999999999 487.3,928.6999999999999 484.8,930.9999999999999 Z" fill="#2a62b8"/>
<path d="M500.8,910.4 H513 M500.8,933.4 H513" stroke="#e0101c" stroke-width="3"/>
<path d="M521,910.4 l-9.5,-5.4 v10.8 z M521,933.4 l-9.5,-5.4 v10.8 z" fill="#e0101c"/>
<rect x="464.8" y="954.4" width="36" height="32.5" rx="4.5" fill="#fff" stroke="#d01a28" stroke-width="2"/>
<path d="M480.40,967.93 A3.2,3.2 0 0 0 480.40,973.47" fill="none" stroke="#1e5aa8" stroke-width="2" stroke-linecap="round"/>
<path d="M479.11,964.77 A6.6,6.6 0 0 0 479.11,976.63" fill="none" stroke="#1e5aa8" stroke-width="2" stroke-linecap="round"/>
<path d="M477.85,961.38 A10.2,10.2 0 0 0 477.85,980.02" fill="none" stroke="#1e5aa8" stroke-width="2" stroke-linecap="round"/>
<path d="M484.8,962.4 C487.3,964.6999999999999 488.8,966.1999999999999 489.8,966.4999999999999 H495.3 V974.9 H489.8 C488.8,975.1999999999999 487.3,976.6999999999999 484.8,978.9999999999999 Z" fill="#2a62b8"/>
<path d="M500.8,958.8 H513 M500.8,981.8 H513" stroke="#e0101c" stroke-width="3"/>
<path d="M521,958.8 l-9.5,-5.4 v10.8 z M521,981.8 l-9.5,-5.4 v10.8 z" fill="#e0101c"/>
<rect x="307.2" y="747.6" width="53.2" height="56.8" rx="8" fill="#fff" stroke="#d01a28" stroke-width="1.8"/>
<g fill="#2a64b4">
<path d="M334,755.2 a20.8,20.8 0 1 0 0.01,0 z M334,759 a17,17 0 1 1 -0.01,0 z" fill-rule="evenodd"/>
<rect x="315" y="772" width="38" height="6"/>
<path d="M330.4,778 H337.6 L338.5,794 H329.5 Z"/>
<circle cx="334" cy="776" r="6.6" fill="#fff"/>
<circle cx="334" cy="776" r="5.4"/>
</g>
<rect x="88" y="694" width="139" height="152.5" rx="10" fill="#dcdcdc" stroke="#d01a28" stroke-width="2"/>
<g class="b" font-size="14.6" fill="#383838">
<text x="93.5" y="712.5">Hinweis: Wenn</text>
<text x="93.5" y="729.9">Ihr Auto die</text>
<text x="93.5" y="747.3">Lenfradsteuerung</text>
<text x="93.5" y="764.7">unterstützt, dank</text>
<text x="93.5" y="782.1">mitgeliefertem</text>
<text x="93.5" y="799.5">Canbus können</text>
<text x="93.5" y="816.9">Sie diese</text>
<text x="93.5" y="834.3">ignorieren.</text>
</g>
<!-- NOTES -->
<rect x="455" y="787.2" width="50" height="6" fill="#fff"/>
<g class="b" font-size="10.8" fill="#333" lengthAdjust="spacingAndGlyphs">
<text x="446.6" y="629.8" textLength="59" lengthAdjust="spacingAndGlyphs"><tspan fill="#d85a40" text-decoration="underline">Rot</tspan> Positiv +</text>
<text x="446.6" y="641.6" textLength="73" lengthAdjust="spacingAndGlyphs">Anschlusskabel</text>
<text x="424" y="654" textLength="73.6" lengthAdjust="spacingAndGlyphs"><tspan fill="#e070b0" text-decoration="underline">Pink</tspan> oder <tspan fill="#a06a48" text-decoration="underline">Braun</tspan></text>
<text x="424" y="665.6" textLength="73" lengthAdjust="spacingAndGlyphs">Rückfahrsignal-</text>
<text x="424" y="677" textLength="89" lengthAdjust="spacingAndGlyphs">Übertragungskabel</text>
<text x="393.4" y="800.2" textLength="140.5" lengthAdjust="spacingAndGlyphs"><tspan fill="#c8d050" text-decoration="underline">Gelb</tspan> Kabel zur Speicherung</text>
<text x="393.4" y="813" textLength="90" lengthAdjust="spacingAndGlyphs">der Einstellungen</text>
<text x="393.4" y="830.6" textLength="114.6" lengthAdjust="spacingAndGlyphs"><tspan fill="#e08050" text-decoration="underline">Orange</tspan> Kabel für die</text>
<text x="393.4" y="844.2" textLength="135" lengthAdjust="spacingAndGlyphs">Scheinwerfererkennung</text>
</g>
<rect x="421.5" y="675.5" width="2.2" height="2.5" fill="#e0101c"/>
<text x="322.4" y="884.6" font-size="14" class="b" fill="#404040" textLength="171" lengthAdjust="spacingAndGlyphs"><tspan fill="#3a70b8" text-decoration="underline">Blau</tspan> 12V-Empfangsantenne</text>

<path d="M598.5,813.5 C612,813.5 620,813.5 633,813.5" stroke="#7880a0" stroke-width="3.67" fill="none"/>
<path d="M598.5,816.6 C612,816.6 620,816.6 633,816.6" stroke="#b8bcd0" stroke-width="3.67" fill="none"/>
<path d="M598.5,819.7 C612,819.7 620,819.7 633,819.7" stroke="#d0d2de" stroke-width="3.67" fill="none"/>
<path d="M598.5,822.8 C612,822.8 620,822.8 633,822.8" stroke="#9a9cae" stroke-width="3.67" fill="none"/>
<path d="M598.5,825.8 C612,825.8 620,825.8 633,825.8" stroke="#6a6a6a" stroke-width="3.67" fill="none"/>
<path d="M598.5,828.9 C612,828.9 620,828.9 633,828.9" stroke="#3c3c3c" stroke-width="3.67" fill="none"/>
<path d="M598.5,832.0 C612,832.0 620,832.0 633,832.0" stroke="#2a5a40" stroke-width="3.67" fill="none"/>
<path d="M598.5,835.0 C612,835.0 620,835.0 633,835.0" stroke="#4a4a4a" stroke-width="3.67" fill="none"/>
<path d="M598.5,838.1 C612,838.1 620,838.1 633,838.1" stroke="#3a1c1c" stroke-width="3.67" fill="none"/>
<path d="M598.5,841.8 C612,841.8 620,841.2 633,841.2" stroke="#d07a88" stroke-width="3.67" fill="none"/>
<path d="M598.5,845.5 C612,845.5 620,844.2 633,844.2" stroke="#8a2a2a" stroke-width="3.67" fill="none"/>
<path d="M598.5,849.1 C612,849.1 620,847.3 633,847.3" stroke="#c83a30" stroke-width="3.67" fill="none"/>
<path d="M598.5,852.8 C612,852.8 620,850.4 633,850.4" stroke="#2a2a2a" stroke-width="3.67" fill="none"/>
<path d="M598.5,856.5 C612,856.5 620,853.5 633,853.5" stroke="#111" stroke-width="3.67" fill="none"/>
<path d="M632.4,803.6 H672 L674,806 V864 H632.4 Z" fill="#222"/>
<rect x="632.4" y="803.6" width="41.6" height="4" fill="#1a1a1a"/>
<rect x="632.4" y="823.2" width="41.6" height="1.4" fill="#141414"/>
<rect x="632.4" y="829.3" width="41.6" height="1.6" fill="#121212"/>
<rect x="632.4" y="849.6" width="41.6" height="1.6" fill="#121212"/>
<path d="M650,836 v6 h4" stroke="#333" stroke-width="0.8" fill="none"/>
<path d="M683,836.9 H769" stroke="#e0101c" stroke-width="2"/>
<path d="M674.3,836.9 l10,-5.2 v10.4 z M777.5,836.9 l-10,-5.2 v10.4 z" fill="#e0101c"/>
<rect x="778.5" y="776.2" width="111" height="117.3" fill="#0c0c0c"/>
<path d="M790,780 a8,8 0 0 0 16,0" fill="none" stroke="#232323" stroke-width="1.4"/>
<path d="M810,780 a8,8 0 0 0 16,0" fill="none" stroke="#232323" stroke-width="1.4"/>
<path d="M828,780 a8,8 0 0 0 16,0" fill="none" stroke="#232323" stroke-width="1.4"/>
<path d="M848,780 a8,8 0 0 0 16,0" fill="none" stroke="#232323" stroke-width="1.4"/>
<path d="M867,780 a8,8 0 0 0 16,0" fill="none" stroke="#232323" stroke-width="1.4"/>
<rect x="778.5" y="792" width="111" height="2" fill="#1e1e1e"/>
<rect x="793.4" y="793" width="83" height="84" rx="3" fill="#121212" stroke="#262626" stroke-width="1.2"/>
<rect x="801.9" y="803" width="69" height="42" fill="#0f0f0f" stroke="#222" stroke-width="1"/>
<rect x="803.5" y="806" width="13" height="6" fill="#1e1e1e"/>
<rect x="853" y="806" width="13" height="6" fill="#1e1e1e"/>
<circle cx="811.4" cy="820.7" r="1.1" fill="#d8d8d8"/>
<circle cx="811.4" cy="837.6" r="1.1" fill="#d8d8d8"/>
<circle cx="818.6" cy="820.7" r="1.1" fill="#d8d8d8"/>
<circle cx="818.6" cy="837.6" r="1.1" fill="#d8d8d8"/>
<circle cx="825.8" cy="820.7" r="1.1" fill="#d8d8d8"/>
<circle cx="825.8" cy="837.6" r="1.1" fill="#d8d8d8"/>
<circle cx="833.0" cy="820.7" r="1.1" fill="#d8d8d8"/>
<circle cx="833.0" cy="837.6" r="1.1" fill="#d8d8d8"/>
<circle cx="840.2" cy="820.7" r="1.1" fill="#d8d8d8"/>
<circle cx="840.2" cy="837.6" r="1.1" fill="#d8d8d8"/>
<circle cx="847.4" cy="820.7" r="1.1" fill="#d8d8d8"/>
<circle cx="847.4" cy="837.6" r="1.1" fill="#d8d8d8"/>
<circle cx="854.6" cy="820.7" r="1.1" fill="#d8d8d8"/>
<circle cx="854.6" cy="837.6" r="1.1" fill="#d8d8d8"/>
<circle cx="861.8" cy="820.7" r="1.1" fill="#d8d8d8"/>
<circle cx="861.8" cy="837.6" r="1.1" fill="#d8d8d8"/>
<rect x="813" y="849.3" width="46.7" height="18.2" fill="#141414" stroke="#262626" stroke-width="0.8"/>
<rect x="821.4" y="853.2" width="30.6" height="10.4" rx="1" fill="#1e4e80"/>
<rect x="823" y="855" width="27" height="5" fill="#3a74b0"/>
<circle cx="826" cy="858" r="1" fill="#cfe4ff"/>
<circle cx="836" cy="858" r="1" fill="#cfe4ff"/>
<circle cx="846" cy="858" r="1" fill="#cfe4ff"/>
<rect x="778.5" y="888" width="14" height="2" fill="#3a3a3a"/>
</svg>
</body></html>
